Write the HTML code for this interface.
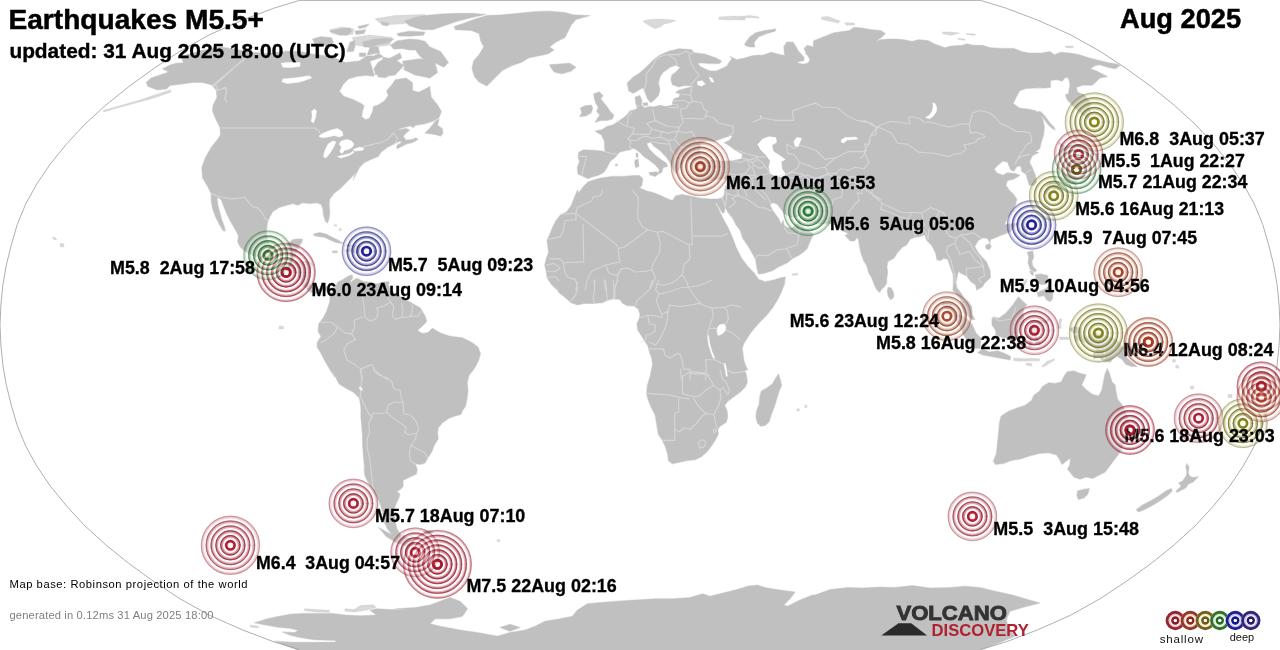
<!DOCTYPE html>
<html lang="en"><head><meta charset="utf-8"><title>Earthquakes M5.5+ Aug 2025</title>
<style>
html,body{margin:0;padding:0;background:#fff;}
body{width:1280px;height:650px;overflow:hidden;font-family:"Liberation Sans","DejaVu Sans",sans-serif;}
svg{display:block}
.lbl{font:bold 17.5px "Liberation Sans","DejaVu Sans",sans-serif;fill:#000;stroke:#000;stroke-width:0.3px;white-space:pre}
</style></head><body>
<svg width="1280" height="650" viewBox="0 0 1280 650">
<defs>
<radialGradient id="g_red"><stop offset="0" stop-color="#ffdde2" stop-opacity="0.45"/><stop offset="0.4" stop-color="#ffdde2" stop-opacity="0.35"/><stop offset="0.75" stop-color="#ffdde2" stop-opacity="0.22"/><stop offset="1" stop-color="#ffdde2" stop-opacity="0.06"/></radialGradient><radialGradient id="g_orange"><stop offset="0" stop-color="#ffd8c0" stop-opacity="0.45"/><stop offset="0.4" stop-color="#ffd8c0" stop-opacity="0.35"/><stop offset="0.75" stop-color="#ffd8c0" stop-opacity="0.22"/><stop offset="1" stop-color="#ffd8c0" stop-opacity="0.06"/></radialGradient><radialGradient id="g_brown"><stop offset="0" stop-color="#ffdcc8" stop-opacity="0.45"/><stop offset="0.4" stop-color="#ffdcc8" stop-opacity="0.35"/><stop offset="0.75" stop-color="#ffdcc8" stop-opacity="0.22"/><stop offset="1" stop-color="#ffdcc8" stop-opacity="0.06"/></radialGradient><radialGradient id="g_olive"><stop offset="0" stop-color="#fbfbc8" stop-opacity="0.45"/><stop offset="0.4" stop-color="#fbfbc8" stop-opacity="0.35"/><stop offset="0.75" stop-color="#fbfbc8" stop-opacity="0.22"/><stop offset="1" stop-color="#fbfbc8" stop-opacity="0.06"/></radialGradient><radialGradient id="g_golive"><stop offset="0" stop-color="#f4f8dc" stop-opacity="0.45"/><stop offset="0.4" stop-color="#f4f8dc" stop-opacity="0.35"/><stop offset="0.75" stop-color="#f4f8dc" stop-opacity="0.22"/><stop offset="1" stop-color="#f4f8dc" stop-opacity="0.06"/></radialGradient><radialGradient id="g_green"><stop offset="0" stop-color="#d8f2d8" stop-opacity="0.45"/><stop offset="0.4" stop-color="#d8f2d8" stop-opacity="0.35"/><stop offset="0.75" stop-color="#d8f2d8" stop-opacity="0.22"/><stop offset="1" stop-color="#d8f2d8" stop-opacity="0.06"/></radialGradient><radialGradient id="g_blue"><stop offset="0" stop-color="#dcdcff" stop-opacity="0.45"/><stop offset="0.4" stop-color="#dcdcff" stop-opacity="0.35"/><stop offset="0.75" stop-color="#dcdcff" stop-opacity="0.22"/><stop offset="1" stop-color="#dcdcff" stop-opacity="0.06"/></radialGradient><radialGradient id="g_indigo"><stop offset="0" stop-color="#ece8ff" stop-opacity="0.45"/><stop offset="0.4" stop-color="#ece8ff" stop-opacity="0.35"/><stop offset="0.75" stop-color="#ece8ff" stop-opacity="0.22"/><stop offset="1" stop-color="#ece8ff" stop-opacity="0.06"/></radialGradient>
</defs>
<rect width="1280" height="650" fill="#fff"/>
<g>
<path d="M404.7,21.1 415.6,17.2 425.0,15.6 440.6,14.1 456.2,13.3 471.9,13.3 485.9,14.4 471.9,17.5 456.2,21.6 450.0,23.8 440.6,26.9 432.8,29.7 421.9,29.7 409.4,25.8Z M396.9,33.6 409.4,31.2 425.0,32.0 423.4,35.2 409.4,36.2 398.4,35.9Z M329.7,31.2 340.6,28.9 350.0,28.1 351.6,31.2 346.9,35.2 339.1,34.4Z M357.8,26.6 368.8,24.2 365.6,27.3 359.4,28.4Z M354.7,31.2 365.6,29.7 364.1,33.6 356.2,34.4Z M381.2,21.9 389.1,23.4 387.5,25.8 382.8,25.0Z M312.5,39.1 320.3,36.7 331.2,37.5 333.6,42.2 328.1,45.3 315.6,45.3Z M350.0,42.2 354.7,40.6 355.0,46.9 353.1,51.6 346.9,51.6Z M362.5,42.2 375.0,39.1 384.4,38.3 393.8,39.1 387.5,43.0 378.1,44.5 370.3,46.9 364.1,46.9Z M370.3,46.9 378.1,46.9 379.7,53.1 373.4,56.2 367.2,54.7Z M359.4,53.1 365.6,53.1 365.6,56.6 359.4,56.6Z M390.6,45.3 396.9,40.9 409.4,39.1 418.8,39.8 425.0,41.4 429.7,46.9 440.6,51.6 448.4,62.5 443.8,67.2 434.4,62.5 428.1,64.1 423.4,59.4 418.8,54.7 415.6,50.0 409.4,50.0 401.6,48.4 393.8,49.2Z M414.1,65.6 423.4,62.5 432.8,65.6 434.7,71.9 429.7,78.1 423.4,76.6 417.2,71.9Z M387.5,59.4 400.0,53.1 401.6,57.8 393.8,62.5 387.5,62.5Z M376.6,70.3 384.4,66.4 390.6,69.5 390.3,75.0 385.2,77.7 378.1,76.9Z M403.1,68.8 412.5,66.4 414.1,69.5 406.2,71.1Z M454.1,26.6 463.4,23.4 475.9,18.8 486.9,15.6 502.5,14.8 518.1,13.3 533.8,11.7 549.4,11.2 565.0,12.5 572.8,14.8 590.0,15.6 575.9,19.5 571.2,25.0 568.1,31.2 565.0,37.5 555.6,42.2 549.4,46.9 554.1,50.0 547.8,53.9 536.9,56.2 529.1,57.8 521.2,62.5 511.9,65.6 502.5,70.3 496.2,76.6 490.0,82.8 486.9,85.9 479.1,82.0 474.4,76.6 472.0,68.8 473.6,60.9 479.1,54.7 483.8,46.9 480.6,40.6 479.1,33.6 471.2,30.5 455.6,29.7Z M549.4,64.8 558.8,64.1 569.7,63.3 575.9,67.2 571.2,71.1 561.9,73.8 554.1,71.9 551.7,68.8Z M588.1,178.8 583.4,176.4 578.0,174.1 577.2,167.8 579.5,161.6 578.0,156.9 578.8,152.2 583.4,149.8 594.4,150.3 605.3,151.4 604.5,147.5 604.5,141.2 601.4,135.0 595.2,131.1 602.2,129.5 606.9,126.4 613.1,124.8 617.8,121.7 622.5,118.6 627.2,114.7 630.3,110.8 628.8,111.2 635.0,109.7 637.3,108.1 635.8,103.4 635.0,97.2 639.7,95.6 642.0,100.3 641.2,105.0 644.4,108.1 649.1,106.6 653.8,106.9 660.0,105.3 666.2,106.6 672.5,105.0 672.5,101.9 674.1,98.8 678.8,97.2 680.3,94.1 675.6,92.5 678.8,90.2 685.0,88.6 694.4,86.2 695.9,83.1 700.6,76.9 716.2,73.8 760.0,73.8 760.0,210.0 730.3,210.0 728.8,197.5 728.0,188.1 728.4,178.8 722.5,178.8 710.0,180.3 697.5,178.8 694.4,172.5 697.5,161.6 692.8,160.0 685.0,160.0 681.9,164.7 678.8,169.4 675.6,174.1 672.5,167.8 669.4,161.6 666.2,156.9 660.0,150.6 653.8,145.9 650.6,142.0 646.7,143.6 649.1,149.1 655.3,155.3 661.6,160.0 666.2,163.1 667.8,166.2 663.1,167.8 661.6,172.5 658.4,174.1 659.2,169.4 655.3,164.7 649.1,160.0 644.4,156.9 639.7,152.2 635.0,149.1 633.4,148.3 630.3,149.8 625.6,150.6 619.4,152.2 615.5,156.9 610.0,161.6 606.9,167.8 603.8,172.5 597.5,175.6 591.2,177.2Z M628.8,90.9 627.2,83.1 633.4,76.9 639.7,73.0 647.5,65.9 653.8,59.7 660.0,55.0 669.4,51.1 678.8,48.8 691.2,49.5 694.4,52.7 705.3,54.2 716.2,58.1 721.7,61.2 719.4,63.6 710.0,63.6 700.6,62.8 697.5,63.6 700.6,66.7 705.3,69.1 710.0,70.9 716.2,70.9 722.5,68.3 727.2,65.9 728.8,62.8 731.9,58.9 730.3,56.6 736.6,59.7 744.4,58.1 752.2,55.8 760.0,55.0 760.0,92.5 700.6,92.5 695.9,83.1 694.4,86.2 685.0,85.5 678.8,87.0 672.5,84.7 670.9,80.0 671.7,75.3 675.6,72.2 680.3,67.5 675.6,65.2 669.4,67.5 667.8,69.1 663.1,72.2 660.0,76.9 658.4,83.1 660.0,89.4 658.4,95.6 653.8,100.3 650.6,102.7 647.5,98.8 645.2,92.5 642.8,87.8 639.7,89.4 633.4,93.3Z M642.8,103.1 647.5,102.7 647.8,105.3 643.6,105.8Z M593.6,94.1 599.1,91.7 603.0,95.6 600.6,98.8 603.8,102.7 606.9,106.6 610.0,111.2 613.9,115.2 612.3,119.1 606.9,120.6 600.6,120.6 595.2,122.2 597.5,118.3 599.8,115.2 596.7,111.2 598.3,107.3 595.9,103.4 594.4,98.8Z M580.3,108.1 585.0,105.8 591.2,105.0 592.8,108.1 591.2,112.8 585.8,115.9 579.5,116.7 581.9,112.8Z M744.4,44.8 746.7,40.9 749.8,37.0 755.3,33.1 760.0,31.6 760.0,34.7 756.1,37.0 753.0,40.9 750.6,44.8 747.5,46.4Z M649.1,172.5 656.9,171.7 658.4,174.1 655.3,176.4 649.8,174.8Z M635.0,160.0 638.1,159.2 638.9,166.2 635.8,167.8 634.7,163.9Z M636.2,153.0 638.1,153.8 637.8,157.7 636.2,156.9Z M615.5,164.4 617.5,164.1 617.5,165.6 615.5,165.8Z M170.0,65.0 162.5,68.8 168.8,72.0 160.0,75.0 151.2,78.0 146.2,82.5 148.0,86.5 157.5,90.0 166.2,89.0 170.0,85.5 182.5,84.0 192.5,82.5 202.5,82.5 212.0,85.0 216.2,90.0 217.0,97.5 213.0,105.5 212.5,111.2 216.2,120.0 220.0,127.5 220.5,135.0 217.0,140.0 211.2,147.5 205.5,157.5 201.8,167.5 202.5,177.8 207.2,185.6 211.1,193.4 211.2,201.2 212.7,209.1 215.6,216.9 219.5,224.7 223.1,230.6 225.3,231.2 224.2,226.2 221.9,220.0 219.7,212.2 218.1,205.9 217.2,199.7 217.8,196.9 221.2,199.7 223.6,205.9 226.7,213.8 230.6,221.6 235.3,229.4 238.4,235.6 237.7,241.9 240.0,246.6 244.7,251.2 252.5,255.2 260.3,258.3 268.1,260.6 277.5,262.2 283.8,265.3 280.0,266.6 287.4,270.3 294.2,272.3 295.9,273.5 299.0,277.5 301.2,281.5 301.3,285.2 305.4,287.2 308.7,290.8 311.1,292.4 314.6,292.8 318.0,295.6 320.2,294.4 321.1,291.6 323.0,289.2 326.4,290.8 328.0,293.6 330.1,295.6 332.4,291.6 330.7,289.6 326.7,286.8 323.1,286.4 318.4,288.8 314.1,288.8 311.5,286.4 308.9,282.3 308.8,278.7 310.0,273.5 311.3,267.4 311.9,264.6 309.5,261.4 304.3,261.0 298.9,261.4 294.7,261.8 292.7,260.6 295.0,256.6 296.4,251.3 298.9,246.5 301.9,242.1 302.4,238.9 302.5,239.5 299.4,238.8 293.1,239.5 290.0,241.9 283.8,246.6 277.5,248.1 271.2,246.6 268.1,241.9 266.6,235.6 266.6,229.4 267.3,223.1 269.7,216.9 272.8,211.4 279.1,207.5 286.9,205.2 293.1,203.6 297.8,205.2 302.5,202.8 310.3,203.6 316.6,202.8 321.2,204.4 322.8,209.1 323.6,215.3 325.2,220.8 327.5,223.1 329.1,218.4 329.8,212.2 329.1,204.4 329.8,198.9 333.8,193.4 340.0,188.8 346.2,182.5 352.5,176.2 355.6,172.3 353.1,180.0 356.2,173.8 359.4,167.5 364.1,162.8 370.3,159.7 378.1,156.6 381.2,151.9 387.5,147.2 393.8,144.1 400.0,140.9 401.6,142.5 396.9,145.6 396.9,148.8 400.0,147.2 406.2,144.1 412.5,142.5 418.0,139.4 415.6,137.8 412.5,139.4 406.2,140.2 403.1,136.2 406.2,133.1 409.4,130.0 406.2,128.4 396.9,130.0 387.5,134.7 385.2,137.0 390.6,133.1 400.0,128.4 409.4,126.1 415.6,125.3 425.0,123.8 434.4,120.6 439.1,117.5 441.4,111.2 437.5,105.0 431.2,97.2 429.7,86.2 428.1,87.5 418.8,92.2 412.5,90.6 412.5,82.8 406.2,78.1 395.3,79.7 389.1,89.1 387.5,100.0 390.6,86.2 386.7,90.9 388.3,95.6 384.4,101.1 378.1,105.0 373.4,106.6 372.7,111.2 369.5,118.3 365.6,119.8 361.7,116.7 362.5,111.2 364.1,105.8 360.9,103.4 353.1,99.5 343.8,96.4 339.1,90.9 339.8,90.6 343.0,84.4 348.4,78.9 356.2,76.6 365.6,75.3 373.4,76.2 375.3,73.1 373.8,68.8 378.1,62.5 382.8,59.4 382.8,56.2 378.1,53.1 368.8,54.7 359.4,60.9 345.3,62.5 331.2,56.2 315.6,54.7 300.0,51.6 287.4,51.2 266.5,53.6 252.8,52.2 238.2,49.9 221.2,46.9 201.6,50.5 180.6,56.6 182.5,59.7 183.3,62.8 176.1,63.2Z M425.0,133.1 429.7,128.4 435.9,120.6 439.1,119.1 437.5,125.3 442.2,128.4 443.0,133.1 440.6,136.2 435.9,134.7 431.2,133.9Z M411.2,125.3 414.8,125.6 414.1,127.2 411.2,126.9Z M313.4,234.1 319.7,232.5 325.9,234.1 332.2,237.2 338.4,240.3 343.1,243.4 336.9,242.7 330.6,240.3 324.4,237.2 318.1,236.4 314.2,235.6Z M332.2,251.2 336.9,250.9 337.7,252.5 333.0,252.8Z M345.2,245.3 350.8,244.9 355.3,244.9 360.8,246.1 365.6,250.1 361.6,251.3 355.4,253.4 351.0,251.7 344.8,250.9 349.6,248.9 350.8,247.3Z M369.7,250.5 374.9,250.9 374.4,252.5 369.5,252.5Z M330.1,295.6 330.7,290.0 335.5,287.2 337.6,282.3 342.3,279.9 348.6,275.9 352.2,275.1 352.7,278.3 350.4,280.7 351.3,282.7 352.5,281.1 356.6,278.3 358.0,278.7 363.1,281.5 371.2,282.3 376.4,283.9 383.6,281.9 387.1,282.3 388.7,285.6 390.2,290.8 420.3,308.1 425.0,315.9 426.6,320.6 425.0,325.3 432.8,328.4 440.6,333.1 450.0,336.2 462.5,337.8 471.9,342.5 478.1,347.2 480.5,353.4 478.9,359.7 475.0,367.5 470.3,373.8 471.9,370.0 468.8,376.2 467.2,382.5 468.0,390.3 467.2,398.1 465.6,405.9 462.5,410.6 460.9,414.5 454.7,416.1 448.4,418.4 442.2,423.1 438.3,427.8 437.5,432.5 438.3,438.8 434.4,445.0 432.0,451.2 428.1,457.5 425.0,463.0 420.3,464.5 415.6,463.8 412.5,461.4 415.6,464.7 417.2,469.4 416.4,474.1 409.4,477.2 403.1,480.3 403.1,486.6 400.0,489.7 396.9,491.2 400.0,494.4 398.4,499.1 396.1,503.8 393.8,510.0 394.5,516.2 395.3,522.5 396.9,528.8 400.0,533.4 401.6,538.1 402.6,534.8 416.2,543.6 412.2,546.2 404.4,545.5 395.1,542.1 386.1,536.3 378.6,527.4 392.2,535.0 387.5,528.8 384.4,522.5 382.8,513.1 381.2,506.9 378.1,499.1 373.4,491.2 368.8,483.4 364.8,475.6 364.1,467.8 364.8,470.0 364.1,463.8 363.3,454.4 362.5,445.0 362.5,435.6 361.7,426.2 360.9,416.9 360.9,407.5 359.4,398.1 353.1,391.9 346.9,388.8 339.1,384.1 335.9,377.8 331.2,370.0 334.4,376.9 329.7,369.1 325.0,361.2 320.3,351.9 317.2,347.2 317.2,342.5 321.1,336.2 318.0,331.6 318.8,323.8 323.4,317.5 326.6,311.2 329.7,301.9Z M423.1,530.9 429.1,530.5 433.2,531.7 430.7,534.4 424.7,533.2Z M385.7,281.9 389.2,281.5 388.7,284.3 385.6,284.3Z M578.8,192.8 583.4,186.6 588.1,181.9 592.8,180.3 600.6,178.0 611.6,176.4 622.5,176.4 633.4,175.6 639.7,175.6 642.8,178.8 642.0,185.0 639.7,188.1 647.5,191.2 653.8,192.8 660.0,195.2 667.8,199.1 672.5,200.6 675.6,195.9 681.9,194.4 689.7,195.9 700.6,198.3 710.0,199.1 717.8,199.1 722.5,197.5 725.6,194.4 715.6,203.4 717.0,205.8 722.5,217.5 728.0,227.5 732.5,237.5 736.2,247.5 741.2,257.5 747.5,266.2 755.0,273.8 754.1,273.1 758.8,279.4 765.0,281.7 772.8,280.2 780.6,277.8 785.3,277.0 784.5,284.1 781.4,291.9 777.5,299.7 772.8,307.5 766.6,315.3 760.3,321.6 754.8,327.8 750.9,332.5 747.8,337.2 743.9,343.4 742.3,348.1 743.1,354.4 743.9,360.6 745.5,365.3 747.8,370.0 745.0,370.0 746.6,376.2 747.3,382.5 745.0,387.2 740.3,391.9 734.1,396.6 727.8,401.2 724.7,405.2 727.0,410.6 727.8,416.9 726.2,422.3 720.0,426.2 717.7,429.4 718.4,434.1 716.1,438.8 712.2,445.0 707.5,451.2 701.2,456.7 695.0,459.8 687.2,460.6 679.4,462.2 672.3,463.8 668.4,460.6 667.7,454.4 665.3,446.6 662.2,440.3 658.3,434.1 656.7,424.7 655.2,415.3 651.2,407.5 648.1,399.7 646.6,393.4 647.3,385.6 649.7,377.8 652.8,370.0 649.4,380.0 650.9,372.2 652.5,364.4 651.7,358.1 649.4,351.9 647.8,345.6 644.7,340.9 640.8,334.7 637.7,330.0 636.9,323.8 639.2,319.1 640.0,314.4 638.4,308.9 633.8,305.8 627.5,305.8 622.8,303.4 619.7,299.5 613.4,298.8 607.2,300.3 602.5,302.7 593.1,303.4 583.8,303.4 577.5,305.0 571.2,302.7 565.0,297.2 558.8,292.5 555.6,286.2 552.5,280.0 557.2,290.0 550.9,283.8 547.0,277.5 546.2,271.2 544.7,265.0 546.2,258.8 548.6,252.5 547.8,246.2 547.0,240.0 549.4,235.3 552.5,227.5 555.6,221.2 560.3,215.0 566.6,211.9 571.2,205.6 573.6,199.4 577.5,190.0Z M778.6,373.9 780.2,379.4 781.7,385.6 779.4,390.3 777.0,398.1 774.7,405.9 771.6,413.8 769.2,421.6 765.3,425.5 760.6,426.2 757.5,423.1 755.9,416.9 756.7,410.6 759.1,404.4 759.8,396.6 761.4,391.1 766.9,388.0 772.3,384.1 775.5,378.6Z M731.9,76.9 760.0,73.8 740.0,59.4 747.8,57.0 755.6,55.9 763.4,55.0 771.2,52.3 777.5,53.9 784.5,55.5 783.8,46.9 786.9,41.9 793.1,42.2 796.2,46.9 800.2,52.3 806.4,53.9 804.1,48.4 807.2,45.3 813.4,46.9 813.4,40.9 825.9,35.9 833.8,32.8 849.4,30.5 854.1,27.3 861.9,28.1 869.7,29.4 880.6,30.5 885.3,33.6 881.4,37.5 875.9,40.9 880.6,39.8 888.4,39.1 896.2,39.1 904.1,39.8 911.9,41.4 918.1,39.8 920.0,39.8 927.8,40.6 934.1,43.8 945.0,47.7 951.2,46.1 962.2,45.3 966.9,43.8 973.1,45.3 982.5,45.3 990.3,47.7 1001.2,48.4 1013.8,48.4 1021.6,51.6 1029.4,53.1 1041.9,53.1 1049.7,51.6 1054.4,54.7 1060.6,52.3 1070.0,53.1 1079.4,54.7 1088.8,57.8 1098.1,60.2 1107.5,62.5 1116.9,64.1 1120.0,65.6 1115.3,68.8 1107.5,67.2 1099.7,64.8 1095.0,65.6 1090.3,68.8 1096.6,71.1 1104.4,75.0 1107.5,76.6 1099.7,78.1 1095.0,82.8 1091.9,85.2 1082.5,85.2 1076.2,87.5 1077.8,92.2 1084.2,94.7 1088.4,100.3 1091.3,105.3 1087.8,107.2 1091.3,112.1 1088.8,113.7 1089.5,120.6 1082.3,114.8 1074.1,107.2 1067.1,99.6 1065.4,94.7 1068.4,93.8 1070.0,84.4 1068.4,78.1 1065.3,77.3 1062.2,81.2 1057.5,79.7 1050.5,80.5 1050.5,87.5 1044.4,88.1 1038.1,87.8 1025.6,88.6 1019.4,90.9 1016.2,97.2 1013.1,103.4 1019.4,108.1 1027.2,108.9 1035.0,110.5 1039.7,113.6 1042.8,119.1 1044.4,126.9 1043.6,134.7 1041.2,142.5 1039.7,148.8 1035.0,151.9 1030.3,150.3 1038.8,152.5 1032.5,155.6 1029.4,161.9 1032.5,168.1 1035.6,175.9 1036.4,182.2 1034.1,185.3 1029.4,185.3 1027.8,180.6 1026.2,174.4 1021.6,171.2 1020.8,165.8 1016.9,166.6 1013.8,171.2 1010.6,169.7 1007.5,161.9 1002.8,161.1 998.1,165.0 994.2,168.9 996.6,172.8 1002.8,175.2 1007.5,172.8 1015.3,173.6 1020.0,175.2 1013.8,179.1 1007.5,180.6 1005.9,185.3 1009.1,190.0 1013.8,194.7 1016.9,199.4 1015.3,205.6 1012.2,211.9 1007.5,218.1 1004.4,224.4 1018.6,223.2 1014.1,226.8 1010.5,231.6 1003.3,234.4 1000.1,235.6 995.2,237.7 990.2,239.7 990.1,243.3 987.6,238.5 983.0,237.7 978.2,240.5 974.8,246.5 978.1,252.5 982.3,257.4 986.3,261.4 990.2,270.7 990.5,277.5 984.9,282.7 982.4,286.8 976.6,290.0 975.5,284.7 970.7,281.5 966.7,275.9 961.2,273.5 958.5,271.1 957.2,276.7 955.9,282.7 957.0,288.0 960.8,292.8 963.9,297.6 968.3,301.7 971.7,306.9 972.3,314.9 974.9,319.4 972.0,319.4 966.9,314.9 964.1,312.9 961.3,304.9 960.4,298.8 955.5,292.8 952.9,290.8 953.4,282.7 953.2,274.7 950.9,268.6 947.8,259.4 943.8,258.2 940.5,260.6 936.9,259.8 935.4,252.5 931.7,245.3 926.9,240.5 924.5,234.8 920.2,236.4 915.0,237.3 910.0,239.3 908.6,241.7 906.5,244.9 902.2,247.3 897.5,252.5 893.9,258.2 887.9,261.4 886.9,266.6 887.7,272.7 886.7,278.7 886.6,283.5 884.3,286.8 881.9,288.8 879.6,292.4 876.6,289.6 874.3,284.7 871.8,277.9 868.7,272.7 866.7,265.4 863.6,260.6 860.8,252.5 859.5,246.5 858.6,240.5 857.6,237.3 854.4,240.9 850.3,240.9 845.3,235.6 848.5,233.2 843.1,231.2 839.4,228.8 836.2,224.4 828.5,223.6 819.9,224.0 812.9,223.2 805.8,222.0 801.9,217.1 799.4,215.9 795.1,217.5 789.8,217.1 784.3,213.5 780.4,208.3 777.2,204.2 772.9,202.6 769.8,205.1 772.7,210.3 775.9,215.1 778.6,218.3 781.1,224.4 783.2,220.3 784.0,225.2 787.3,227.6 792.5,228.0 797.3,223.6 799.7,219.5 800.9,225.2 804.7,229.2 809.0,230.8 813.2,234.4 809.6,242.5 807.2,248.5 802.9,252.5 798.6,255.4 792.8,258.2 787.7,262.6 779.1,266.6 772.3,270.7 763.5,273.5 758.3,273.9 756.6,266.6 755.6,259.4 751.8,252.5 747.6,245.3 742.8,238.5 740.3,230.4 735.8,224.4 732.7,218.3 727.9,212.3 725.2,206.7 724.5,212.3 722.5,213.1 717.2,204.6 716.2,199.4 722.2,199.0 724.3,194.2 724.6,190.2 726.8,184.1 726.7,178.9 724.9,177.7 720.0,179.3 715.1,179.7 708.5,176.9 703.3,178.9 698.2,176.9 696.2,172.1 693.6,166.9 694.0,162.9 698.8,162.1 701.9,159.7 708.4,159.7 714.6,156.1 721.1,156.1 726.2,158.9 733.0,160.5 737.8,160.1 742.4,158.1 741.8,154.1 736.4,150.1 731.2,146.9 726.0,144.2 726.8,138.2 731.2,135.5 740.1,132.3 761.6,116.8Z M744.7,44.5 749.4,37.5 755.6,32.8 765.0,30.5 775.9,28.9 775.2,31.2 766.6,33.6 758.8,36.7 754.1,42.2 754.8,46.9 749.4,46.9Z M1038.1,111.2 1041.2,112.0 1045.9,117.5 1050.6,123.8 1053.8,126.9 1055.3,130.0 1052.2,128.4 1047.5,123.8 1042.8,117.5 1038.9,113.6Z M1062.6,158.1 1059.7,154.1 1059.4,150.9 1062.7,150.5 1058.7,142.6 1065.1,146.1 1073.7,148.1 1076.1,150.9 1072.3,152.5 1072.2,156.1 1065.2,154.1 1062.6,155.3Z M1065.6,158.1 1069.8,162.1 1073.6,166.1 1073.4,172.1 1075.3,176.5 1077.2,181.3 1075.1,184.1 1071.9,185.3 1066.4,185.7 1064.2,190.2 1059.7,185.7 1053.4,186.9 1047.2,188.1 1046.5,186.5 1050.3,182.5 1058.9,181.7 1061.6,176.5 1062.2,174.1 1066.7,174.5 1067.5,170.1 1066.0,164.1 1063.8,160.1Z M1053.8,192.2 1060.0,188.9 1057.5,186.9 1053.2,188.1Z M1044.6,190.2 1047.3,188.5 1051.4,192.2 1052.1,198.6 1048.7,199.4 1046.8,194.2 1044.4,192.2Z M1025.6,223.6 1027.5,226.4 1025.9,236.4 1022.9,233.2 1022.6,229.2 1024.0,224.4Z M985.8,245.2 989.7,243.6 991.2,246.7 988.9,249.8 985.8,248.3Z M888.1,287.3 891.2,288.1 893.6,292.8 893.6,297.5 890.5,299.8 888.1,295.9 887.3,291.2Z M1027.2,252.2 1032.7,250.9 1033.8,256.9 1031.9,261.6 1032.7,266.2 1036.6,270.2 1035.0,271.7 1030.3,269.4 1028.0,263.1 1028.8,256.9Z M1048.8,285.6 1052.8,290.8 1052.6,298.8 1049.9,301.7 1046.3,299.6 1044.3,295.6 1038.3,296.8 1037.0,292.8 1042.1,290.4 1045.6,288.8Z M1035.4,274.7 1040.7,273.9 1047.9,275.5 1047.7,280.7 1046.2,283.9 1041.7,284.7 1038.0,282.7 1035.8,278.7Z M1029.7,270.7 1033.3,271.5 1033.1,275.5 1031.2,274.3Z M942.8,302.5 950.6,304.1 955.1,309.7 961.6,316.1 966.3,318.2 972.4,325.0 975.9,333.1 981.1,338.3 980.0,348.3 975.4,348.3 967.9,341.1 963.4,335.1 961.0,328.2 956.4,321.0 952.7,314.9 947.3,310.1 942.9,304.9Z M977.7,352.4 982.5,349.2 989.4,352.0 997.6,350.8 1004.3,353.2 1010.5,356.4 1010.2,360.0 1001.5,358.4 991.0,356.4 982.2,354.8Z M991.9,319.0 993.6,316.9 999.0,318.2 1006.0,312.9 1012.8,304.9 1018.4,296.8 1022.2,300.8 1027.0,304.9 1023.6,308.1 1023.0,312.9 1023.9,321.0 1022.2,325.0 1018.6,331.0 1016.6,339.1 1011.5,341.1 1006.0,337.9 1001.4,337.1 996.1,335.1 995.5,330.2 992.0,325.0Z M1028.7,347.1 1029.0,339.1 1026.6,335.9 1030.4,325.0 1031.8,321.0 1038.2,321.0 1047.0,319.8 1049.5,319.0 1047.1,323.0 1034.6,323.0 1032.1,328.2 1036.4,329.0 1042.8,328.2 1038.1,332.2 1036.2,336.3 1039.6,341.1 1040.2,345.1 1035.9,343.9 1034.4,337.1 1031.9,337.1 1031.9,347.1Z M1070.2,328.2 1075.5,326.6 1080.8,328.2 1081.7,335.1 1085.9,338.3 1093.2,331.8 1098.5,333.1 1105.5,335.5 1114.3,338.7 1119.5,342.3 1122.1,346.7 1128.0,349.2 1128.8,353.2 1125.7,356.4 1130.6,361.2 1137.1,366.5 1131.8,366.5 1126.0,364.4 1121.9,359.2 1116.8,356.0 1113.1,358.8 1110.3,362.0 1104.0,361.6 1099.0,357.2 1093.6,358.8 1093.3,353.2 1097.0,351.2 1092.7,345.9 1085.7,342.7 1078.7,340.3 1076.2,341.1 1074.6,336.3 1080.0,333.9 1073.6,333.1 1070.1,330.2Z M998.8,430.0 999.5,422.5 1001.1,416.2 1008.1,411.6 1015.9,408.4 1025.3,405.3 1031.6,400.6 1033.9,395.2 1039.4,391.2 1042.5,386.6 1048.8,382.7 1055.0,383.4 1061.2,381.9 1064.4,375.6 1067.5,371.7 1073.8,370.9 1080.0,373.3 1086.2,374.8 1083.9,380.3 1081.6,385.0 1086.2,389.7 1092.5,394.4 1098.8,395.9 1101.9,389.7 1103.4,381.9 1105.0,374.1 1107.3,368.6 1109.7,374.1 1112.0,381.9 1115.2,385.0 1115.9,391.2 1117.5,399.1 1122.2,405.3 1125.3,411.6 1128.4,419.4 1130.0,427.2 1126.9,430.0 1126.9,434.7 1125.3,440.9 1122.2,447.2 1119.1,453.4 1114.4,459.7 1109.7,465.9 1105.0,472.2 1098.8,475.3 1092.5,478.4 1086.2,476.9 1080.0,479.2 1073.8,476.9 1071.4,473.8 1067.5,469.1 1069.8,464.4 1070.6,458.1 1065.9,461.2 1062.0,464.4 1059.7,459.7 1056.6,455.0 1048.8,452.7 1039.4,453.4 1030.0,455.8 1020.6,458.9 1011.2,460.5 1003.4,463.6 995.6,464.4 993.3,461.2 996.4,453.4 997.2,445.6 998.0,437.8 998.8,430.0Z M1077.7,490.9 1083.1,489.4 1089.4,488.6 1087.8,494.1 1083.9,498.0 1078.4,499.5 1076.9,495.6Z M1136.2,509.7 1142.5,505.0 1150.3,501.1 1158.1,496.4 1165.9,490.9 1171.4,488.6 1172.2,490.9 1167.5,495.6 1159.7,501.1 1151.9,505.8 1144.1,509.7 1138.6,512.0Z M1186.7,463.5 1189.0,467.1 1188.2,473.1 1189.9,476.3 1192.8,477.5 1198.3,476.7 1193.2,481.9 1188.6,483.9 1185.5,487.9 1177.1,492.3 1176.0,491.1 1180.8,486.7 1180.6,485.1 1178.6,483.1 1182.6,481.1 1186.2,475.9 1186.9,471.9 1185.9,466.7Z M254.4,622.8 266.9,618.9 277.8,616.6 290.3,614.2 304.4,613.4 320.0,613.4 332.5,613.4 345.0,615.0 360.6,615.8 376.2,615.0 370.0,610.3 376.2,608.8 391.9,609.5 407.5,609.5 395.0,608.8 415.0,607.5 430.0,605.0 440.0,601.2 450.0,597.5 460.0,601.2 467.5,608.8 462.5,616.2 450.0,618.8 435.0,618.8 430.0,623.8 440.0,626.2 460.0,630.0 477.5,632.5 497.5,636.2 510.0,632.5 525.0,630.0 535.0,626.2 545.0,621.2 560.0,618.8 560.0,618.8 572.5,616.2 577.5,610.0 587.5,603.8 600.0,602.5 617.5,601.2 635.0,600.0 655.0,598.8 672.5,598.8 690.0,597.5 702.5,593.8 710.0,596.2 720.0,593.8 735.0,590.0 747.5,586.2 757.5,585.0 765.0,587.5 780.0,590.0 795.0,592.0 790.0,598.8 783.8,605.0 787.5,606.2 800.0,600.0 812.5,595.0 815.0,595.0 830.0,589.5 847.5,587.5 862.5,588.0 880.0,587.0 895.0,587.5 912.5,585.5 930.0,588.0 950.0,587.5 965.0,586.2 980.0,587.5 995.0,591.2 1012.5,595.0 1025.0,598.8 1040.0,603.0 1022.5,607.5 1010.0,611.2 1006.2,620.0 1008.8,628.8 1015.0,636.2 1000.0,642.5 980.0,650.0 980.0,655.0 298.1,652.5 298.1,650.0 285.6,645.5 274.7,641.2 290.3,642.2 313.8,642.3 335.6,642.0 335.6,640.5 313.8,639.7 301.2,637.7 290.3,635.3 282.5,631.9 295.0,632.5 298.1,630.3 290.3,628.3 279.4,627.5 266.9,625.2Z M500.0,627.5 510.0,624.2 520.0,627.5 510.0,631.2Z M370.0,61.2 382.5,57.0 395.0,59.5 403.8,65.5 395.0,75.0 383.8,76.5 373.8,74.0Z M402.5,61.2 420.0,58.8 435.0,62.5 437.5,72.5 430.0,78.0 415.0,75.0 405.0,70.0Z" fill="#c0c0c0" fill-rule="nonzero" stroke="#c0c0c0" stroke-opacity="0.45" stroke-width="1.2" stroke-linejoin="round"/>
<path d="M334.5,224.7 336.6,224.7 336.6,226.2 334.5,226.2Z M339.2,228.6 341.2,228.6 341.2,230.6 339.2,230.6Z M170.6,89.7 158.1,93.9 148.8,97.0 139.4,100.2 126.9,103.8 119.1,105.9 103.4,110.6 103.4,111.9 119.1,107.5 126.9,105.3 139.4,102.0 148.8,99.4 158.1,96.6 170.6,92.3Z M497.2,539.4 500.0,540.0 499.7,542.0 497.2,541.2Z M279.1,326.2 283.4,326.2 283.4,329.0 279.2,329.0Z M797.0,408.8 799.2,408.8 799.2,410.9 797.0,410.9Z M804.8,405.2 807.0,405.2 807.0,407.5 804.8,407.5Z M792.2,273.8 797.7,273.4 797.7,275.0 792.2,275.3Z M821.2,17.2 827.5,16.4 840.0,21.1 838.4,23.1 829.1,21.1 822.0,19.5Z M844.7,22.7 854.1,23.1 854.8,25.0 846.2,25.3Z M740.0,16.4 749.4,15.6 758.8,16.9 758.8,18.1 749.4,17.5 740.0,18.4Z M941.9,32.0 951.2,32.0 959.8,33.1 951.2,35.2 943.4,34.1Z M966.1,33.6 975.5,34.1 974.7,35.2 966.9,34.7Z M957.5,38.3 965.3,39.1 964.5,40.3 958.3,39.4Z M1065.3,46.1 1073.1,46.1 1073.1,47.7 1066.1,47.7Z M1019.8,290.8 1024.2,286.8 1027.1,279.9 1026.0,279.1 1022.2,284.7 1019.1,289.6Z M1013.9,358.0 1019.2,358.4 1026.3,358.8 1031.6,358.4 1039.7,358.8 1039.6,360.8 1029.7,360.8 1019.0,361.2 1013.7,360.4Z M1041.6,366.5 1047.3,361.2 1054.6,358.8 1054.5,360.0 1048.9,363.6 1043.3,366.9Z M1025.9,363.2 1031.2,363.2 1032.1,366.1 1026.8,365.3Z M1057.7,328.2 1059.5,319.0 1061.9,319.0 1060.6,325.0 1061.3,328.2Z M1059.3,337.1 1068.2,337.1 1069.2,339.5 1059.9,339.5Z M1131.6,347.5 1138.7,347.1 1144.4,341.9 1145.6,344.7 1142.2,349.2 1135.0,350.4 1131.5,349.2Z M304.4,608.8 316.9,609.5 329.4,610.3 329.4,612.2 316.9,611.9 304.4,610.6Z M345.0,608.8 354.4,609.5 360.6,605.6 373.1,604.8 376.2,607.2 366.9,610.0 354.4,611.9 345.0,611.1Z M249.7,625.2 257.5,625.9 259.1,627.8 251.2,627.2Z M643.0,21.0 650.0,19.5 659.0,19.0 668.0,19.5 676.0,20.5 671.0,22.5 664.0,24.0 660.0,27.0 655.0,28.5 650.0,26.0 646.0,23.5Z M719.0,17.0 735.0,16.0 745.0,17.0 745.0,20.0 730.0,20.0 719.0,19.5Z M330.0,29.5 342.5,27.0 353.8,28.8 352.5,34.5 340.0,35.5 331.2,33.0Z M375.0,18.8 395.0,15.5 425.0,14.5 425.0,20.0 402.5,23.8 382.5,25.0Z M352.5,37.5 370.0,35.0 392.5,37.5 390.0,45.0 370.0,47.5 355.0,45.0Z M60.0,243.5 63.5,243.5 64.0,246.8 60.5,247.0Z M52.0,237.0 55.0,237.5 57.0,240.0 54.0,239.5Z M423.8,327.0 428.8,325.5 430.0,329.0 425.5,330.5Z M1172.5,359.5 1175.5,359.5 1175.5,362.0 1172.5,362.0Z M1176.0,365.0 1179.0,366.0 1178.5,368.5 1175.5,367.5Z M1228.0,394.5 1232.0,394.5 1232.0,397.5 1228.0,397.5Z M1190.5,386.0 1193.5,386.0 1193.5,389.0 1190.5,389.0Z" fill="#c0c0c0" fill-opacity="0.6" stroke="#c0c0c0" stroke-opacity="0.25" stroke-width="1.2" stroke-linejoin="round"/>
<path d="M697.5,81.6 702.2,80.8 705.3,83.9 701.4,86.2 697.5,84.7Z M709.2,76.9 712.3,78.4 713.9,82.3 710.8,81.6Z M701.4,143.6 706.9,141.2 713.9,142.0 717.8,140.5 725.6,137.8 731.9,135.8 729.5,139.7 723.3,142.8 728.8,145.9 735.0,150.6 742.0,154.5 741.2,158.4 731.9,160.3 722.5,160.8 713.1,159.2 705.3,160.8 701.4,156.9 699.8,150.6Z M318.8,136.2 323.4,133.1 331.2,130.0 337.5,128.4 342.2,131.6 343.0,135.5 339.1,137.0 334.4,135.5 328.1,137.0 321.9,137.8Z M332.8,140.9 335.9,141.7 333.6,147.2 329.7,153.4 325.8,158.1 323.4,156.6 325.0,150.3 328.1,144.1Z M341.4,140.9 346.9,139.4 351.6,140.9 353.9,144.1 352.3,147.2 348.4,149.5 344.5,150.3 342.2,153.4 339.8,151.9 341.4,147.2 339.1,144.1Z M337.5,156.6 343.8,155.0 350.0,153.4 353.1,151.1 353.9,152.7 348.4,155.8 340.6,158.1Z M353.1,149.5 359.4,147.2 364.1,148.0 362.5,150.3 354.7,151.1Z M311.7,111.2 314.8,108.9 316.4,111.2 315.6,117.5 313.3,123.0 311.2,121.4 312.2,115.9Z M281.2,63.3 287.5,62.5 300.0,62.5 300.0,66.4 290.6,67.5 282.8,67.2Z M282.8,78.9 293.8,78.1 309.4,75.8 311.7,78.1 300.0,82.0 287.5,83.6 282.0,82.0Z M359.1,387.2 361.2,386.9 362.5,390.0 360.6,390.6Z M717.3,327.8 719.7,324.7 724.4,323.9 725.9,327.0 725.2,330.9 722.0,334.1 718.1,335.6 716.9,331.7Z M707.5,335.6 708.8,335.6 709.7,343.4 711.9,351.2 714.7,357.8 713.4,358.4 710.6,351.6 708.4,343.8Z M723.8,363.4 725.3,363.4 726.6,370.0 727.5,376.2 726.2,376.2 725.2,370.0Z M757.8,144.5 762.5,139.1 768.8,136.7 775.8,137.5 776.6,142.2 771.9,145.3 773.4,151.6 779.7,155.5 785.2,159.4 781.2,161.7 782.0,168.8 785.2,173.4 784.4,176.6 776.6,176.6 770.3,173.4 768.8,167.2 770.3,160.9 765.6,154.7 760.9,150.0Z M793.8,141.4 796.9,137.5 801.6,138.3 800.0,142.2 797.7,146.9 795.0,146.1Z M841.4,139.8 845.3,137.5 856.2,137.2 857.8,139.1 846.9,140.0 843.8,143.0 841.4,142.2Z M925.6,117.5 929.5,115.2 932.2,111.2 933.1,106.6 932.7,102.7 935.0,103.4 936.9,108.1 936.2,112.0 933.4,115.9 929.5,118.8Z M797.0,46.9 800.2,46.1 802.5,51.6 807.2,55.5 809.5,59.4 808.0,62.5 803.3,63.8 797.8,62.5 804.1,60.9 804.8,57.8 801.7,53.9 798.6,50.8Z M418.0,330.5 425.5,323.5 433.0,327.0 428.0,332.0 422.5,333.0Z" fill="#fff" stroke="#fff" stroke-opacity="0.45" stroke-width="1" stroke-linejoin="round"/>
<path d="M242.5,60.0 213.8,86.2 M221.2,128.0 315.0,128.0 315.6,128.8 318.8,130.8 321.1,135.0 M211.1,193.4 216.6,195.8 222.8,197.3 230.6,198.9 240.0,198.1 244.7,197.3 247.8,201.2 252.5,206.7 257.2,207.5 261.9,212.2 265.0,218.4 268.1,220.0 M364.1,146.4 373.4,144.1 381.2,142.5 387.5,139.4 393.8,133.1 397.7,138.6 394.5,143.8 M360.2,370.0 361.7,377.8 360.9,387.2 360.2,396.6 364.1,404.4 368.8,413.8 371.9,416.9 368.8,423.1 369.5,432.5 367.2,438.8 367.2,448.1 369.5,457.5 371.1,470.0 371.9,478.8 373.4,491.2 376.6,500.6 379.7,510.0 M373.4,370.0 378.1,374.7 387.5,377.8 392.2,382.5 393.8,388.8 400.0,390.3 401.6,398.1 403.1,402.8 393.8,402.0 388.3,405.2 386.7,412.2 381.2,413.8 373.4,413.0 371.9,416.9 M386.7,412.2 393.8,418.4 401.6,423.9 406.2,427.8 404.7,432.5 409.4,434.8 416.4,433.3 M403.1,402.8 403.9,413.8 410.9,415.3 416.4,421.6 418.8,429.4 416.4,433.3 415.6,438.8 410.9,445.0 418.8,449.7 425.0,452.8 427.3,457.5 M410.9,445.0 409.4,452.8 410.2,460.6 414.1,463.8 M602.5,190.0 600.9,195.5 593.1,197.0 591.6,200.9 577.5,207.2 575.9,213.4 M560.3,214.2 575.9,213.4 575.9,219.7 565.0,220.5 563.4,230.6 560.3,236.9 547.8,239.2 M575.9,213.4 616.6,244.7 618.1,248.6 624.4,247.0 647.8,229.8 M632.2,190.0 638.4,197.8 637.7,218.1 641.6,225.9 647.8,229.8 657.2,232.2 663.4,231.4 688.4,244.7 692.3,244.7 M690.8,198.6 692.3,244.7 M693.1,236.1 721.2,236.1 727.5,233.8 M657.2,232.2 660.3,243.1 659.5,252.5 652.5,265.0 651.7,269.7 M689.2,244.7 690.0,258.8 683.8,265.0 682.2,274.4 686.9,282.2 688.4,286.9 M583.0,224.4 583.8,261.9 563.4,262.7 560.3,258.8 549.4,258.8 M618.1,248.6 619.7,261.9 605.6,265.0 591.6,271.2 586.9,280.6 585.3,290.0 M618.1,274.4 621.2,268.9 627.5,268.1 635.3,272.0 646.2,271.2 651.7,269.7 655.6,277.5 652.5,283.8 649.4,290.0 M605.6,265.0 608.8,272.8 615.0,275.2 618.1,274.4 616.6,283.8 613.4,290.0 M563.4,262.7 565.0,272.8 568.1,277.5 574.4,279.1 577.5,283.8 575.9,290.0 M594.7,279.8 594.7,290.0 M604.1,279.8 605.6,290.0 M546.2,265.0 554.1,263.4 560.3,268.1 555.6,271.2 547.0,271.2 M547.0,277.5 555.6,276.7 558.8,280.6 M682.2,274.4 675.9,280.6 669.7,283.8 663.4,285.3 655.6,283.8 M575.9,280.0 577.5,289.4 575.2,295.6 571.2,300.3 M593.9,280.0 594.7,289.4 593.1,298.8 594.7,303.4 M605.6,280.0 606.4,289.4 607.2,299.5 M613.4,280.0 614.2,290.9 613.4,298.8 M618.1,280.0 615.0,286.2 614.7,298.0 M652.5,280.0 649.4,289.4 643.1,295.6 636.9,300.3 635.3,305.8 M658.8,280.0 655.6,289.4 658.8,294.1 669.7,291.7 680.6,287.8 688.4,287.0 M688.4,287.0 696.2,286.2 705.6,283.1 711.9,280.0 M688.4,287.0 696.2,298.8 702.5,305.0 711.9,308.1 724.4,307.3 732.2,305.0 740.0,306.6 M658.8,294.1 656.4,300.3 658.8,308.1 661.9,314.4 668.1,311.2 669.7,305.0 680.6,306.6 690.0,305.0 699.4,303.4 702.5,305.0 M640.0,317.5 647.8,315.2 655.6,315.9 661.9,317.5 661.9,314.4 M647.8,315.9 649.4,323.8 655.6,325.3 654.8,331.6 649.4,334.7 646.2,334.7 645.5,340.2 640.0,342.5 M668.1,311.2 667.3,320.6 665.0,328.4 661.9,334.7 658.8,340.9 655.6,344.8 649.4,342.5 M649.4,348.8 663.4,348.8 665.0,355.0 669.7,358.1 677.5,353.4 680.6,355.0 682.2,361.2 683.8,369.1 690.0,369.1 690.8,373.8 702.5,373.8 708.8,375.3 M711.9,308.1 713.4,315.9 710.3,323.8 708.0,331.6 708.0,339.4 M724.4,307.3 727.5,311.2 728.3,319.1 725.9,323.8 M725.9,330.0 732.2,333.1 740.0,339.4 M708.8,328.4 716.6,328.4 M705.6,359.7 715.0,359.7 724.4,364.4 M705.6,359.7 706.4,367.5 705.6,380.0 M680.6,369.1 681.4,380.0 M690.0,369.1 690.0,380.0 M647.3,393.4 670.0,395.0 682.5,398.1 688.8,398.9 M678.6,398.9 678.6,412.2 674.7,413.0 674.7,440.3 662.2,440.3 M674.7,429.4 679.4,431.7 684.1,427.8 690.3,429.4 696.6,423.1 702.8,415.3 707.5,413.8 M693.4,398.1 698.1,405.9 704.4,412.2 707.5,413.8 713.8,414.5 M698.1,396.6 707.5,388.8 713.8,385.6 720.0,390.3 720.8,398.1 718.4,405.9 713.8,414.5 715.3,421.6 716.9,427.8 M682.5,376.2 682.5,393.4 688.8,395.8 698.1,396.6 M682.5,376.2 690.3,371.6 705.9,373.1 709.1,377.8 713.8,385.6 M698.1,442.7 702.0,439.5 705.9,441.9 704.4,446.6 699.7,448.1 698.1,442.7 M713.1,429.7 715.6,429.1 716.2,431.9 713.8,432.5 713.1,429.7 M721.6,377.8 726.2,382.5 729.4,390.3 727.8,395.0 723.1,387.2 720.0,390.3 M720.0,370.0 722.3,377.8 M727.8,370.0 732.5,373.1 745.0,371.6 M362.5,297.2 364.1,306.6 364.8,316.7 370.3,321.4 376.6,318.3 378.1,311.2 376.6,308.1 384.4,305.8 390.6,301.9 387.5,297.2 M390.6,301.9 393.8,306.6 392.2,315.9 395.3,319.1 401.6,317.5 403.1,311.2 401.6,303.4 M401.6,317.5 409.4,316.7 411.7,314.4 412.5,305.0 M409.4,316.7 418.8,315.9 420.3,311.2 M320.3,322.2 331.2,322.2 337.5,326.9 345.3,333.1 351.6,333.9 354.7,326.9 353.9,320.6 362.5,316.7 M321.1,342.5 326.6,339.4 334.4,333.1 337.5,326.9 M351.6,333.9 355.5,339.4 346.9,344.1 343.8,350.3 346.9,359.7 354.7,364.4 360.9,369.1 362.5,380.0 M360.9,369.1 371.9,364.4 375.0,370.6 381.2,375.3 387.5,380.0 M877.2,126.9 883.4,123.8 891.2,121.4 900.6,122.2 910.0,123.8 908.4,117.5 911.6,116.7 919.4,118.3 924.1,122.2 931.9,122.2 941.2,125.3 949.1,126.9 956.9,125.3 961.6,123.8 969.4,124.5 970.2,133.1 975.6,132.3 983.4,134.7 985.0,137.0 977.2,139.4 975.6,142.5 967.8,144.1 963.9,144.8 966.2,148.8 961.6,153.4 953.8,154.2 949.1,156.6 944.4,155.8 935.0,153.4 925.6,152.7 917.8,151.9 913.1,148.0 906.9,144.1 897.5,143.3 894.4,137.8 891.2,133.1 883.4,129.2 877.2,126.9 M969.4,124.5 972.5,112.8 980.3,110.5 989.7,112.8 995.9,117.5 1000.6,123.8 1008.4,126.9 1016.2,131.6 1024.1,131.6 1030.3,133.1 1031.9,142.5 1027.2,144.1 1024.1,148.8 1017.8,158.1 M860.0,121.4 864.7,120.6 872.5,125.3 877.2,126.9 875.6,134.7 870.2,136.2 869.4,144.1 864.7,144.1 866.2,150.3 863.1,156.6 860.0,158.1 M753.1,121.9 762.5,118.0 775.0,120.3 793.8,120.3 792.2,110.9 803.1,107.0 815.6,103.1 821.9,107.0 837.5,107.8 846.9,115.6 856.2,120.3 871.9,123.4 876.6,128.1 870.3,135.9 868.8,143.8 864.1,151.6 848.4,151.6 835.9,157.8 825.0,159.4 815.6,150.0 800.0,145.3 M786.7,143.8 793.8,148.4 800.0,145.3 M786.7,143.8 787.5,153.1 793.8,154.7 800.0,162.5 809.4,165.6 815.6,168.8 825.0,167.2 829.7,162.5 835.9,157.8 M776.6,176.6 787.5,173.4 796.9,168.8 800.0,162.5 M825.0,167.2 828.1,173.4 835.9,173.4 840.6,168.8 848.4,170.3 854.7,167.2 864.1,168.8 868.8,162.5 864.1,151.6 M784.4,176.6 793.8,178.1 806.2,175.0 815.6,178.1 825.0,175.0 828.1,173.4 M815.6,178.1 817.2,187.5 812.5,193.8 818.8,200.0 M835.9,173.4 837.5,181.2 845.3,184.4 853.1,181.2 862.5,187.5 871.9,193.8 881.2,200.0 M731.2,160.2 740.6,162.5 746.9,159.4 753.1,162.5 757.8,159.4 762.5,162.5 770.3,173.4 M746.9,159.4 750.0,167.2 745.3,173.4 751.6,178.1 762.5,175.0 770.3,173.4 M751.6,178.1 753.1,187.5 759.4,193.8 765.6,200.0 M745.3,173.4 735.9,175.0 728.1,173.4 721.9,178.1 M735.9,175.0 737.5,184.4 743.8,187.5 746.9,196.9 M579.0,156.5 586.5,156.5 584.6,164.1 582.9,170.1 582.2,175.3 M602.0,150.5 610.0,153.3 618.0,154.5 M617.0,120.2 622.1,124.1 627.0,126.5 634.4,128.4 632.5,133.9 627.7,139.0 630.5,140.6 629.8,147.3 632.0,148.9 M631.6,112.1 628.1,117.5 627.7,121.8 627.0,126.5 M636.1,105.7 639.7,106.0 M652.6,109.5 653.9,114.8 655.3,120.6 646.8,123.4 651.8,129.2 649.4,134.3 640.0,134.3 632.5,133.9 M630.5,140.6 636.8,140.2 641.6,137.1 646.9,136.3 651.7,138.2 659.9,137.1 661.9,131.6 667.6,133.1 677.5,131.2 M680.4,109.1 681.2,114.8 683.0,121.8 679.4,127.3 667.9,126.5 661.6,123.4 655.3,120.6 M651.8,129.2 661.9,131.6 M677.5,131.2 674.8,139.4 672.6,139.8 668.5,140.6 659.9,137.1 M668.5,140.6 670.0,144.6 670.9,150.1 673.9,152.9 674.4,156.5 675.9,160.5 673.5,165.3 M651.7,141.8 656.8,142.2 659.1,143.4 662.3,143.4 668.7,144.2 M677.5,131.2 685.4,132.7 691.9,131.6 697.8,142.2 702.4,143.4 M674.8,139.4 679.9,146.1 685.0,149.3 694.5,147.7 699.7,149.3 M679.9,146.1 680.1,154.9 682.3,158.9 692.1,158.9 693.3,157.3 698.4,156.1 M674.4,156.5 680.1,154.9 M675.9,160.5 682.3,158.9 M692.1,158.9 693.2,160.9 M681.5,118.7 691.9,118.3 702.6,119.1 706.8,116.0 713.1,117.5 718.5,123.0 726.5,124.9 732.8,126.1 733.3,133.1 728.7,135.9 M679.4,127.3 678.1,130.8 M680.4,109.1 686.3,108.3 689.0,103.0 693.5,101.1 701.7,103.0 703.8,109.1 707.7,111.8 705.0,116.0 M672.4,101.1 684.0,100.3 689.0,103.0 M668.9,107.6 678.2,107.6 678.0,105.3 673.2,104.1 M681.4,94.3 686.4,94.7 690.6,95.8 692.3,100.3 M691.4,88.4 690.6,95.8 M690.9,84.7 695.7,79.2 699.3,75.6 694.0,68.5 690.2,61.4 689.1,54.6 693.3,51.9 M644.3,90.2 646.2,82.9 646.3,73.8 652.1,66.7 655.8,59.7 660.8,56.3 667.1,54.6 M677.5,65.6 675.5,59.7 668.4,54.6 678.8,54.6 686.0,51.2 688.8,52.9 M726.7,178.9 733.1,176.9 743.0,175.7 747.9,175.3 755.6,175.3 751.7,166.5 754.2,165.3 749.1,159.7 742.4,158.1 M755.6,175.3 760.4,182.1 759.5,188.1 767.1,196.2 771.4,204.2 M738.3,195.4 748.9,200.2 758.7,207.5 764.9,207.9 769.3,210.3 M726.9,193.4 730.8,195.0 738.3,195.4 737.1,190.6 744.2,186.5 747.6,175.7 M725.1,206.3 726.6,198.2 726.4,191.4 M722.6,199.0 725.1,206.3 M729.0,207.5 733.9,204.2 735.4,202.2 731.7,198.2 738.3,195.4 M754.2,165.3 760.3,168.5 764.8,166.1 768.5,170.5 M742.4,158.1 749.1,159.7 753.9,158.9 758.5,156.9 765.0,156.9 M736.4,150.1 746.6,153.7 758.5,156.9 M769.3,210.3 771.7,210.3 M784.2,227.6 788.0,232.8 797.1,233.6 798.7,236.4 797.2,244.5 786.9,248.5 776.5,250.1 767.4,255.8 757.5,255.0 755.2,259.0 M786.9,248.5 791.3,257.8 M798.7,236.4 800.5,227.6 799.2,224.8 M797.1,233.6 798.7,236.4 M816.4,223.6 817.4,208.3 813.8,205.1 813.2,198.2 810.6,190.2 811.2,181.7 802.5,174.1 792.2,172.1 785.7,174.9 M813.8,205.1 831.3,205.1 833.7,199.0 841.9,197.0 842.3,190.2 844.9,186.1 844.8,178.1 854.4,176.1 857.0,180.1 M811.2,181.7 819.9,178.1 827.4,174.5 832.8,176.1 844.8,178.1 M833.6,222.8 841.1,228.4 851.3,226.8 847.9,213.1 855.0,204.2 859.4,200.2 857.2,192.2 861.7,194.2 864.1,182.1 867.5,182.1 872.2,188.1 871.8,194.2 882.2,203.4 880.5,209.1 890.7,212.7 900.1,217.1 908.9,218.3 910.9,214.3 911.3,212.3 M882.2,203.4 893.4,208.7 901.0,212.3 907.9,212.7 911.3,212.3 921.7,213.1 930.9,207.5 939.5,211.1 M908.9,218.3 911.9,226.4 914.9,236.4 M921.7,213.1 923.4,222.4 924.8,224.8 921.5,228.4 925.9,232.4 928.2,239.3 M939.5,211.1 945.0,214.3 946.2,224.4 943.7,228.4 949.7,236.4 956.9,238.1 954.8,243.3 959.8,254.2 964.2,253.0 969.2,251.3 975.7,260.6 983.4,266.6 M928.2,239.3 928.7,230.4 933.0,224.4 939.5,211.1 M956.9,238.1 960.3,234.8 966.8,234.4 973.5,232.8 980.9,238.1 M960.3,234.8 969.7,242.5 973.2,249.7 980.7,258.6 983.4,266.6 984.4,275.9 978.6,278.7 981.0,282.7 M954.8,243.3 947.6,246.5 946.6,252.5 951.1,260.6 952.4,266.6 955.1,276.7 954.9,282.7 M966.7,275.5 966.4,268.6 976.5,267.4 983.4,266.6 M1025.8,172.9 1030.6,169.7 M1014.9,164.1 1018.8,158.1 1022.6,156.1 1029.6,154.1 M959.7,298.8 965.8,301.3 M994.0,316.9 999.1,321.0 1011.5,319.0 1014.8,310.9 1015.8,307.7 M1105.5,335.5 1104.0,361.6 M252.4,52.5 212.5,85.4 216.9,86.5 216.9,90.6 226.1,87.3 226.4,92.5 224.7,99.2 227.2,102.2 M280.0,266.6 284.3,260.2 287.1,260.2 286.0,255.8 292.3,253.4 295.8,250.9 M292.3,253.4 291.3,261.0 294.3,261.8 M294.3,271.9 290.2,267.0 291.3,261.0 M295.9,273.1 299.1,269.5 305.4,266.2 311.9,264.6 M301.6,280.7 305.1,280.7 308.6,281.1 M310.7,292.4 311.1,286.8 M330.7,290.0 329.4,294.8" fill="none" stroke="#e4e4e4" stroke-opacity="0.6" stroke-width="1.15" stroke-linejoin="round" stroke-linecap="round"/>
</g>
<path d="M299.4,649.6 273.8,641.8 242.4,629.9 209.2,615.1 180.1,598.8 153.8,581.5 128.9,563.5 105.6,544.7 84.5,525.5 66.4,505.8 50.2,485.9 36.7,465.9 25.6,445.8 17.3,425.6 11.4,405.5 6.4,385.4 2.9,365.3 0.9,345.1 0.0,325.0 0.9,304.9 2.9,284.7 6.4,264.6 11.4,244.5 17.3,224.4 25.6,204.2 36.7,184.1 50.2,164.1 66.4,144.2 84.5,124.5 105.6,105.3 128.9,86.5 153.8,68.5 180.1,51.2 209.2,34.9 242.4,20.1 273.8,8.2 299.4,0.4 980.6,0.4 1006.2,8.2 1037.6,20.1 1070.8,34.9 1099.9,51.2 1126.2,68.5 1151.1,86.5 1174.4,105.3 1195.5,124.5 1213.6,144.2 1229.8,164.1 1243.3,184.1 1254.4,204.2 1262.7,224.4 1268.6,244.5 1273.6,264.6 1277.1,284.7 1279.1,304.9 1280.0,325.0 1279.1,345.1 1277.1,365.3 1273.6,385.4 1268.6,405.5 1262.7,425.6 1254.4,445.8 1243.3,465.9 1229.8,485.9 1213.6,505.8 1195.5,525.5 1174.4,544.7 1151.1,563.5 1126.2,581.5 1099.9,598.8 1070.8,615.1 1037.6,629.9 1006.2,641.8 980.6,649.6" fill="none" stroke="#9a9a9a" stroke-width="0.8"/>
<g transform="translate(286.1,272.4)"><circle r="30.1" fill="url(#g_red)"/><circle r="26.1" fill="none" stroke="#fff" stroke-width="1.6" stroke-opacity="0.25"/><circle r="28.2" fill="none" stroke="#a8162c" stroke-width="2.6" stroke-opacity="0.17"/><circle r="28.9" fill="none" stroke="#a8162c" stroke-width="1.2" stroke-opacity="0.28"/><circle r="29.3" fill="none" stroke="#333" stroke-width="0.9" stroke-opacity="0.17"/><circle r="21.2" fill="none" stroke="#fff" stroke-width="1.6" stroke-opacity="0.34"/><circle r="23.4" fill="none" stroke="#a8162c" stroke-width="2.6" stroke-opacity="0.28"/><circle r="24.1" fill="none" stroke="#a8162c" stroke-width="1.2" stroke-opacity="0.47"/><circle r="24.5" fill="none" stroke="#333" stroke-width="0.9" stroke-opacity="0.29"/><circle r="16.4" fill="none" stroke="#fff" stroke-width="1.6" stroke-opacity="0.42"/><circle r="18.6" fill="none" stroke="#a8162c" stroke-width="2.6" stroke-opacity="0.32"/><circle r="19.2" fill="none" stroke="#a8162c" stroke-width="1.2" stroke-opacity="0.54"/><circle r="19.6" fill="none" stroke="#333" stroke-width="0.9" stroke-opacity="0.34"/><circle r="11.5" fill="none" stroke="#fff" stroke-width="1.6" stroke-opacity="0.51"/><circle r="13.7" fill="none" stroke="#a8162c" stroke-width="2.6" stroke-opacity="0.37"/><circle r="14.4" fill="none" stroke="#a8162c" stroke-width="1.2" stroke-opacity="0.61"/><circle r="14.8" fill="none" stroke="#333" stroke-width="0.9" stroke-opacity="0.38"/><circle r="6.7" fill="none" stroke="#fff" stroke-width="1.6" stroke-opacity="0.60"/><circle r="8.9" fill="none" stroke="#a8162c" stroke-width="2.6" stroke-opacity="0.41"/><circle r="9.6" fill="none" stroke="#a8162c" stroke-width="1.2" stroke-opacity="0.68"/><circle r="10.0" fill="none" stroke="#333" stroke-width="0.9" stroke-opacity="0.42"/><circle r="4.2" fill="none" stroke="#a8162c" stroke-width="2.7" stroke-opacity="0.95"/><path d="M7,0H26.1" stroke="#400" stroke-width="0.6" stroke-opacity="0.22" stroke-dasharray="3 2"/><circle r="1.8" fill="#fff" fill-opacity="0.6"/></g>
<g transform="translate(268.1,255.3)"><circle r="25.2" fill="url(#g_green)"/><circle r="21.2" fill="none" stroke="#fff" stroke-width="1.6" stroke-opacity="0.25"/><circle r="23.4" fill="none" stroke="#1e7a28" stroke-width="2.6" stroke-opacity="0.17"/><circle r="24.1" fill="none" stroke="#1e7a28" stroke-width="1.2" stroke-opacity="0.28"/><circle r="24.5" fill="none" stroke="#333" stroke-width="0.9" stroke-opacity="0.17"/><circle r="16.4" fill="none" stroke="#fff" stroke-width="1.6" stroke-opacity="0.37"/><circle r="18.6" fill="none" stroke="#1e7a28" stroke-width="2.6" stroke-opacity="0.30"/><circle r="19.2" fill="none" stroke="#1e7a28" stroke-width="1.2" stroke-opacity="0.49"/><circle r="19.6" fill="none" stroke="#333" stroke-width="0.9" stroke-opacity="0.31"/><circle r="11.5" fill="none" stroke="#fff" stroke-width="1.6" stroke-opacity="0.48"/><circle r="13.7" fill="none" stroke="#1e7a28" stroke-width="2.6" stroke-opacity="0.35"/><circle r="14.4" fill="none" stroke="#1e7a28" stroke-width="1.2" stroke-opacity="0.59"/><circle r="14.8" fill="none" stroke="#333" stroke-width="0.9" stroke-opacity="0.37"/><circle r="6.7" fill="none" stroke="#fff" stroke-width="1.6" stroke-opacity="0.60"/><circle r="8.9" fill="none" stroke="#1e7a28" stroke-width="2.6" stroke-opacity="0.41"/><circle r="9.6" fill="none" stroke="#1e7a28" stroke-width="1.2" stroke-opacity="0.68"/><circle r="10.0" fill="none" stroke="#333" stroke-width="0.9" stroke-opacity="0.42"/><circle r="4.2" fill="none" stroke="#1e7a28" stroke-width="2.7" stroke-opacity="0.95"/><path d="M7,0H21.2" stroke="#400" stroke-width="0.6" stroke-opacity="0.22" stroke-dasharray="3 2"/><circle r="1.8" fill="#fff" fill-opacity="0.6"/></g>
<g transform="translate(286.1,272.4)"><circle r="6.7" fill="none" stroke="#fff" stroke-width="1.3" stroke-opacity="0.35"/><circle r="9.4" fill="none" stroke="#a8162c" stroke-width="1.6" stroke-opacity="0.22"/><circle r="11.5" fill="none" stroke="#fff" stroke-width="1.3" stroke-opacity="0.35"/><circle r="14.2" fill="none" stroke="#a8162c" stroke-width="1.6" stroke-opacity="0.22"/><circle r="16.4" fill="none" stroke="#fff" stroke-width="1.3" stroke-opacity="0.35"/><circle r="19.1" fill="none" stroke="#a8162c" stroke-width="1.6" stroke-opacity="0.22"/><circle r="21.2" fill="none" stroke="#fff" stroke-width="1.3" stroke-opacity="0.35"/><circle r="23.9" fill="none" stroke="#a8162c" stroke-width="1.6" stroke-opacity="0.22"/><circle r="26.1" fill="none" stroke="#fff" stroke-width="1.3" stroke-opacity="0.35"/><circle r="28.8" fill="none" stroke="#a8162c" stroke-width="1.6" stroke-opacity="0.22"/><circle r="4.2" fill="none" stroke="#a8162c" stroke-width="2.7" stroke-opacity="0.85"/><circle r="1.8" fill="#fff" fill-opacity="0.85"/></g>
<text class="lbl" x="110.0" y="274.1" textLength="145.0" lengthAdjust="spacingAndGlyphs" xml:space="preserve">M5.8  2Aug 17:58</text>
<text class="lbl" x="311.6" y="295.8" textLength="150.3" lengthAdjust="spacingAndGlyphs" xml:space="preserve">M6.0 23Aug 09:14</text>
<g transform="translate(366.5,251.2)"><circle r="25.2" fill="url(#g_blue)"/><circle r="21.2" fill="none" stroke="#fff" stroke-width="1.6" stroke-opacity="0.25"/><circle r="23.4" fill="none" stroke="#15158c" stroke-width="2.6" stroke-opacity="0.17"/><circle r="24.1" fill="none" stroke="#15158c" stroke-width="1.2" stroke-opacity="0.28"/><circle r="24.5" fill="none" stroke="#333" stroke-width="0.9" stroke-opacity="0.17"/><circle r="16.4" fill="none" stroke="#fff" stroke-width="1.6" stroke-opacity="0.37"/><circle r="18.6" fill="none" stroke="#15158c" stroke-width="2.6" stroke-opacity="0.30"/><circle r="19.2" fill="none" stroke="#15158c" stroke-width="1.2" stroke-opacity="0.49"/><circle r="19.6" fill="none" stroke="#333" stroke-width="0.9" stroke-opacity="0.31"/><circle r="11.5" fill="none" stroke="#fff" stroke-width="1.6" stroke-opacity="0.48"/><circle r="13.7" fill="none" stroke="#15158c" stroke-width="2.6" stroke-opacity="0.35"/><circle r="14.4" fill="none" stroke="#15158c" stroke-width="1.2" stroke-opacity="0.59"/><circle r="14.8" fill="none" stroke="#333" stroke-width="0.9" stroke-opacity="0.37"/><circle r="6.7" fill="none" stroke="#fff" stroke-width="1.6" stroke-opacity="0.60"/><circle r="8.9" fill="none" stroke="#15158c" stroke-width="2.6" stroke-opacity="0.41"/><circle r="9.6" fill="none" stroke="#15158c" stroke-width="1.2" stroke-opacity="0.68"/><circle r="10.0" fill="none" stroke="#333" stroke-width="0.9" stroke-opacity="0.42"/><circle r="4.2" fill="none" stroke="#15158c" stroke-width="2.7" stroke-opacity="0.95"/><path d="M7,0H21.2" stroke="#400" stroke-width="0.6" stroke-opacity="0.22" stroke-dasharray="3 2"/><circle r="1.8" fill="#fff" fill-opacity="0.6"/></g>
<text class="lbl" x="387.9" y="270.5" textLength="145.2" lengthAdjust="spacingAndGlyphs" xml:space="preserve">M5.7  5Aug 09:23</text>
<g transform="translate(700.3,166.6)"><circle r="30.1" fill="url(#g_orange)"/><circle r="26.1" fill="none" stroke="#fff" stroke-width="1.6" stroke-opacity="0.25"/><circle r="28.2" fill="none" stroke="#a43a22" stroke-width="2.6" stroke-opacity="0.17"/><circle r="28.9" fill="none" stroke="#a43a22" stroke-width="1.2" stroke-opacity="0.28"/><circle r="29.3" fill="none" stroke="#333" stroke-width="0.9" stroke-opacity="0.17"/><circle r="21.2" fill="none" stroke="#fff" stroke-width="1.6" stroke-opacity="0.34"/><circle r="23.4" fill="none" stroke="#a43a22" stroke-width="2.6" stroke-opacity="0.28"/><circle r="24.1" fill="none" stroke="#a43a22" stroke-width="1.2" stroke-opacity="0.47"/><circle r="24.5" fill="none" stroke="#333" stroke-width="0.9" stroke-opacity="0.29"/><circle r="16.4" fill="none" stroke="#fff" stroke-width="1.6" stroke-opacity="0.42"/><circle r="18.6" fill="none" stroke="#a43a22" stroke-width="2.6" stroke-opacity="0.32"/><circle r="19.2" fill="none" stroke="#a43a22" stroke-width="1.2" stroke-opacity="0.54"/><circle r="19.6" fill="none" stroke="#333" stroke-width="0.9" stroke-opacity="0.34"/><circle r="11.5" fill="none" stroke="#fff" stroke-width="1.6" stroke-opacity="0.51"/><circle r="13.7" fill="none" stroke="#a43a22" stroke-width="2.6" stroke-opacity="0.37"/><circle r="14.4" fill="none" stroke="#a43a22" stroke-width="1.2" stroke-opacity="0.61"/><circle r="14.8" fill="none" stroke="#333" stroke-width="0.9" stroke-opacity="0.38"/><circle r="6.7" fill="none" stroke="#fff" stroke-width="1.6" stroke-opacity="0.60"/><circle r="8.9" fill="none" stroke="#a43a22" stroke-width="2.6" stroke-opacity="0.41"/><circle r="9.6" fill="none" stroke="#a43a22" stroke-width="1.2" stroke-opacity="0.68"/><circle r="10.0" fill="none" stroke="#333" stroke-width="0.9" stroke-opacity="0.42"/><circle r="4.2" fill="none" stroke="#a43a22" stroke-width="2.7" stroke-opacity="0.95"/><path d="M7,0H26.1" stroke="#400" stroke-width="0.6" stroke-opacity="0.22" stroke-dasharray="3 2"/><circle r="1.8" fill="#fff" fill-opacity="0.6"/></g>
<text class="lbl" x="726.0" y="189.2" textLength="149.3" lengthAdjust="spacingAndGlyphs" xml:space="preserve">M6.1 10Aug 16:53</text>
<g transform="translate(808.1,211.2)"><circle r="25.2" fill="url(#g_green)"/><circle r="21.2" fill="none" stroke="#fff" stroke-width="1.6" stroke-opacity="0.25"/><circle r="23.4" fill="none" stroke="#1e7a28" stroke-width="2.6" stroke-opacity="0.17"/><circle r="24.1" fill="none" stroke="#1e7a28" stroke-width="1.2" stroke-opacity="0.28"/><circle r="24.5" fill="none" stroke="#333" stroke-width="0.9" stroke-opacity="0.17"/><circle r="16.4" fill="none" stroke="#fff" stroke-width="1.6" stroke-opacity="0.37"/><circle r="18.6" fill="none" stroke="#1e7a28" stroke-width="2.6" stroke-opacity="0.30"/><circle r="19.2" fill="none" stroke="#1e7a28" stroke-width="1.2" stroke-opacity="0.49"/><circle r="19.6" fill="none" stroke="#333" stroke-width="0.9" stroke-opacity="0.31"/><circle r="11.5" fill="none" stroke="#fff" stroke-width="1.6" stroke-opacity="0.48"/><circle r="13.7" fill="none" stroke="#1e7a28" stroke-width="2.6" stroke-opacity="0.35"/><circle r="14.4" fill="none" stroke="#1e7a28" stroke-width="1.2" stroke-opacity="0.59"/><circle r="14.8" fill="none" stroke="#333" stroke-width="0.9" stroke-opacity="0.37"/><circle r="6.7" fill="none" stroke="#fff" stroke-width="1.6" stroke-opacity="0.60"/><circle r="8.9" fill="none" stroke="#1e7a28" stroke-width="2.6" stroke-opacity="0.41"/><circle r="9.6" fill="none" stroke="#1e7a28" stroke-width="1.2" stroke-opacity="0.68"/><circle r="10.0" fill="none" stroke="#333" stroke-width="0.9" stroke-opacity="0.42"/><circle r="4.2" fill="none" stroke="#1e7a28" stroke-width="2.7" stroke-opacity="0.95"/><path d="M7,0H21.2" stroke="#400" stroke-width="0.6" stroke-opacity="0.22" stroke-dasharray="3 2"/><circle r="1.8" fill="#fff" fill-opacity="0.6"/></g>
<text class="lbl" x="829.9" y="229.9" textLength="144.9" lengthAdjust="spacingAndGlyphs" xml:space="preserve">M5.6  5Aug 05:06</text>
<g transform="translate(1031.6,224.9)"><circle r="25.2" fill="url(#g_blue)"/><circle r="21.2" fill="none" stroke="#fff" stroke-width="1.6" stroke-opacity="0.25"/><circle r="23.4" fill="none" stroke="#15158c" stroke-width="2.6" stroke-opacity="0.17"/><circle r="24.1" fill="none" stroke="#15158c" stroke-width="1.2" stroke-opacity="0.28"/><circle r="24.5" fill="none" stroke="#333" stroke-width="0.9" stroke-opacity="0.17"/><circle r="16.4" fill="none" stroke="#fff" stroke-width="1.6" stroke-opacity="0.37"/><circle r="18.6" fill="none" stroke="#15158c" stroke-width="2.6" stroke-opacity="0.30"/><circle r="19.2" fill="none" stroke="#15158c" stroke-width="1.2" stroke-opacity="0.49"/><circle r="19.6" fill="none" stroke="#333" stroke-width="0.9" stroke-opacity="0.31"/><circle r="11.5" fill="none" stroke="#fff" stroke-width="1.6" stroke-opacity="0.48"/><circle r="13.7" fill="none" stroke="#15158c" stroke-width="2.6" stroke-opacity="0.35"/><circle r="14.4" fill="none" stroke="#15158c" stroke-width="1.2" stroke-opacity="0.59"/><circle r="14.8" fill="none" stroke="#333" stroke-width="0.9" stroke-opacity="0.37"/><circle r="6.7" fill="none" stroke="#fff" stroke-width="1.6" stroke-opacity="0.60"/><circle r="8.9" fill="none" stroke="#15158c" stroke-width="2.6" stroke-opacity="0.41"/><circle r="9.6" fill="none" stroke="#15158c" stroke-width="1.2" stroke-opacity="0.68"/><circle r="10.0" fill="none" stroke="#333" stroke-width="0.9" stroke-opacity="0.42"/><circle r="4.2" fill="none" stroke="#15158c" stroke-width="2.7" stroke-opacity="0.95"/><path d="M7,0H21.2" stroke="#400" stroke-width="0.6" stroke-opacity="0.22" stroke-dasharray="3 2"/><circle r="1.8" fill="#fff" fill-opacity="0.6"/></g>
<text class="lbl" x="1053.1" y="243.6" textLength="143.9" lengthAdjust="spacingAndGlyphs" xml:space="preserve">M5.9  7Aug 07:45</text>
<g transform="translate(1053.7,195.8)"><circle r="25.2" fill="url(#g_olive)"/><circle r="21.2" fill="none" stroke="#fff" stroke-width="1.6" stroke-opacity="0.25"/><circle r="23.4" fill="none" stroke="#7d7d18" stroke-width="2.6" stroke-opacity="0.17"/><circle r="24.1" fill="none" stroke="#7d7d18" stroke-width="1.2" stroke-opacity="0.28"/><circle r="24.5" fill="none" stroke="#333" stroke-width="0.9" stroke-opacity="0.17"/><circle r="16.4" fill="none" stroke="#fff" stroke-width="1.6" stroke-opacity="0.37"/><circle r="18.6" fill="none" stroke="#7d7d18" stroke-width="2.6" stroke-opacity="0.30"/><circle r="19.2" fill="none" stroke="#7d7d18" stroke-width="1.2" stroke-opacity="0.49"/><circle r="19.6" fill="none" stroke="#333" stroke-width="0.9" stroke-opacity="0.31"/><circle r="11.5" fill="none" stroke="#fff" stroke-width="1.6" stroke-opacity="0.48"/><circle r="13.7" fill="none" stroke="#7d7d18" stroke-width="2.6" stroke-opacity="0.35"/><circle r="14.4" fill="none" stroke="#7d7d18" stroke-width="1.2" stroke-opacity="0.59"/><circle r="14.8" fill="none" stroke="#333" stroke-width="0.9" stroke-opacity="0.37"/><circle r="6.7" fill="none" stroke="#fff" stroke-width="1.6" stroke-opacity="0.60"/><circle r="8.9" fill="none" stroke="#7d7d18" stroke-width="2.6" stroke-opacity="0.41"/><circle r="9.6" fill="none" stroke="#7d7d18" stroke-width="1.2" stroke-opacity="0.68"/><circle r="10.0" fill="none" stroke="#333" stroke-width="0.9" stroke-opacity="0.42"/><circle r="4.2" fill="none" stroke="#7d7d18" stroke-width="2.7" stroke-opacity="0.95"/><path d="M7,0H21.2" stroke="#400" stroke-width="0.6" stroke-opacity="0.22" stroke-dasharray="3 2"/><circle r="1.8" fill="#fff" fill-opacity="0.6"/></g>
<text class="lbl" x="1075.2" y="214.8" textLength="148.9" lengthAdjust="spacingAndGlyphs" xml:space="preserve">M5.6 16Aug 21:13</text>
<g transform="translate(1094.3,122.0)"><circle r="30.1" fill="url(#g_olive)"/><circle r="26.1" fill="none" stroke="#fff" stroke-width="1.6" stroke-opacity="0.25"/><circle r="28.2" fill="none" stroke="#7d7d18" stroke-width="2.6" stroke-opacity="0.17"/><circle r="28.9" fill="none" stroke="#7d7d18" stroke-width="1.2" stroke-opacity="0.28"/><circle r="29.3" fill="none" stroke="#333" stroke-width="0.9" stroke-opacity="0.17"/><circle r="21.2" fill="none" stroke="#fff" stroke-width="1.6" stroke-opacity="0.34"/><circle r="23.4" fill="none" stroke="#7d7d18" stroke-width="2.6" stroke-opacity="0.28"/><circle r="24.1" fill="none" stroke="#7d7d18" stroke-width="1.2" stroke-opacity="0.47"/><circle r="24.5" fill="none" stroke="#333" stroke-width="0.9" stroke-opacity="0.29"/><circle r="16.4" fill="none" stroke="#fff" stroke-width="1.6" stroke-opacity="0.42"/><circle r="18.6" fill="none" stroke="#7d7d18" stroke-width="2.6" stroke-opacity="0.32"/><circle r="19.2" fill="none" stroke="#7d7d18" stroke-width="1.2" stroke-opacity="0.54"/><circle r="19.6" fill="none" stroke="#333" stroke-width="0.9" stroke-opacity="0.34"/><circle r="11.5" fill="none" stroke="#fff" stroke-width="1.6" stroke-opacity="0.51"/><circle r="13.7" fill="none" stroke="#7d7d18" stroke-width="2.6" stroke-opacity="0.37"/><circle r="14.4" fill="none" stroke="#7d7d18" stroke-width="1.2" stroke-opacity="0.61"/><circle r="14.8" fill="none" stroke="#333" stroke-width="0.9" stroke-opacity="0.38"/><circle r="6.7" fill="none" stroke="#fff" stroke-width="1.6" stroke-opacity="0.60"/><circle r="8.9" fill="none" stroke="#7d7d18" stroke-width="2.6" stroke-opacity="0.41"/><circle r="9.6" fill="none" stroke="#7d7d18" stroke-width="1.2" stroke-opacity="0.68"/><circle r="10.0" fill="none" stroke="#333" stroke-width="0.9" stroke-opacity="0.42"/><circle r="4.2" fill="none" stroke="#7d7d18" stroke-width="2.7" stroke-opacity="0.95"/><path d="M7,0H26.1" stroke="#400" stroke-width="0.6" stroke-opacity="0.22" stroke-dasharray="3 2"/><circle r="1.8" fill="#fff" fill-opacity="0.6"/></g>
<text class="lbl" x="1119.4" y="145.1" textLength="145.4" lengthAdjust="spacingAndGlyphs" xml:space="preserve">M6.8  3Aug 05:37</text>
<g transform="translate(1076.6,169.3)"><circle r="25.2" fill="url(#g_golive)"/><circle r="21.2" fill="none" stroke="#fff" stroke-width="1.6" stroke-opacity="0.25"/><circle r="23.4" fill="none" stroke="#3c8a50" stroke-width="2.6" stroke-opacity="0.17"/><circle r="24.1" fill="none" stroke="#3c8a50" stroke-width="1.2" stroke-opacity="0.28"/><circle r="24.5" fill="none" stroke="#333" stroke-width="0.9" stroke-opacity="0.17"/><circle r="16.4" fill="none" stroke="#fff" stroke-width="1.6" stroke-opacity="0.37"/><circle r="18.6" fill="none" stroke="#3c8a50" stroke-width="2.6" stroke-opacity="0.30"/><circle r="19.2" fill="none" stroke="#3c8a50" stroke-width="1.2" stroke-opacity="0.49"/><circle r="19.6" fill="none" stroke="#333" stroke-width="0.9" stroke-opacity="0.31"/><circle r="11.5" fill="none" stroke="#fff" stroke-width="1.6" stroke-opacity="0.48"/><circle r="13.7" fill="none" stroke="#3c8a50" stroke-width="2.6" stroke-opacity="0.35"/><circle r="14.4" fill="none" stroke="#3c8a50" stroke-width="1.2" stroke-opacity="0.59"/><circle r="14.8" fill="none" stroke="#333" stroke-width="0.9" stroke-opacity="0.37"/><circle r="6.7" fill="none" stroke="#fff" stroke-width="1.6" stroke-opacity="0.60"/><circle r="8.9" fill="none" stroke="#3c8a50" stroke-width="2.6" stroke-opacity="0.41"/><circle r="9.6" fill="none" stroke="#3c8a50" stroke-width="1.2" stroke-opacity="0.68"/><circle r="10.0" fill="none" stroke="#333" stroke-width="0.9" stroke-opacity="0.42"/><circle r="4.2" fill="none" stroke="#5a5410" stroke-width="2.7" stroke-opacity="0.95"/><path d="M7,0H21.2" stroke="#400" stroke-width="0.6" stroke-opacity="0.22" stroke-dasharray="3 2"/><circle r="1.8" fill="#fff" fill-opacity="0.6"/></g>
<text class="lbl" x="1097.9" y="187.7" textLength="149.4" lengthAdjust="spacingAndGlyphs" xml:space="preserve">M5.7 21Aug 22:34</text>
<g transform="translate(1078.6,154.5)"><circle r="25.2" fill="url(#g_red)"/><circle r="21.2" fill="none" stroke="#fff" stroke-width="1.6" stroke-opacity="0.25"/><circle r="23.4" fill="none" stroke="#a8162c" stroke-width="2.6" stroke-opacity="0.17"/><circle r="24.1" fill="none" stroke="#a8162c" stroke-width="1.2" stroke-opacity="0.28"/><circle r="24.5" fill="none" stroke="#333" stroke-width="0.9" stroke-opacity="0.17"/><circle r="16.4" fill="none" stroke="#fff" stroke-width="1.6" stroke-opacity="0.37"/><circle r="18.6" fill="none" stroke="#a8162c" stroke-width="2.6" stroke-opacity="0.30"/><circle r="19.2" fill="none" stroke="#a8162c" stroke-width="1.2" stroke-opacity="0.49"/><circle r="19.6" fill="none" stroke="#333" stroke-width="0.9" stroke-opacity="0.31"/><circle r="11.5" fill="none" stroke="#fff" stroke-width="1.6" stroke-opacity="0.48"/><circle r="13.7" fill="none" stroke="#a8162c" stroke-width="2.6" stroke-opacity="0.35"/><circle r="14.4" fill="none" stroke="#a8162c" stroke-width="1.2" stroke-opacity="0.59"/><circle r="14.8" fill="none" stroke="#333" stroke-width="0.9" stroke-opacity="0.37"/><circle r="6.7" fill="none" stroke="#fff" stroke-width="1.6" stroke-opacity="0.60"/><circle r="8.9" fill="none" stroke="#a8162c" stroke-width="2.6" stroke-opacity="0.41"/><circle r="9.6" fill="none" stroke="#a8162c" stroke-width="1.2" stroke-opacity="0.68"/><circle r="10.0" fill="none" stroke="#333" stroke-width="0.9" stroke-opacity="0.42"/><circle r="4.2" fill="none" stroke="#a8162c" stroke-width="2.7" stroke-opacity="0.95"/><path d="M7,0H21.2" stroke="#400" stroke-width="0.6" stroke-opacity="0.22" stroke-dasharray="3 2"/><circle r="1.8" fill="#fff" fill-opacity="0.6"/></g>
<g transform="translate(1076.6,169.3)"><circle r="6.7" fill="none" stroke="#fff" stroke-width="1.3" stroke-opacity="0.35"/><circle r="9.4" fill="none" stroke="#3c8a50" stroke-width="1.6" stroke-opacity="0.22"/><circle r="11.5" fill="none" stroke="#fff" stroke-width="1.3" stroke-opacity="0.35"/><circle r="14.2" fill="none" stroke="#3c8a50" stroke-width="1.6" stroke-opacity="0.22"/><circle r="16.4" fill="none" stroke="#fff" stroke-width="1.3" stroke-opacity="0.35"/><circle r="19.1" fill="none" stroke="#3c8a50" stroke-width="1.6" stroke-opacity="0.22"/><circle r="21.2" fill="none" stroke="#fff" stroke-width="1.3" stroke-opacity="0.35"/><circle r="23.9" fill="none" stroke="#3c8a50" stroke-width="1.6" stroke-opacity="0.22"/><circle r="4.2" fill="none" stroke="#5a5410" stroke-width="2.7" stroke-opacity="0.85"/><circle r="1.8" fill="#fff" fill-opacity="0.85"/></g>
<text class="lbl" x="1100.8" y="166.8" textLength="144.0" lengthAdjust="spacingAndGlyphs" xml:space="preserve">M5.5  1Aug 22:27</text>
<g transform="translate(1118.2,272.2)"><circle r="25.2" fill="url(#g_orange)"/><circle r="21.2" fill="none" stroke="#fff" stroke-width="1.6" stroke-opacity="0.25"/><circle r="23.4" fill="none" stroke="#a43a22" stroke-width="2.6" stroke-opacity="0.17"/><circle r="24.1" fill="none" stroke="#a43a22" stroke-width="1.2" stroke-opacity="0.28"/><circle r="24.5" fill="none" stroke="#333" stroke-width="0.9" stroke-opacity="0.17"/><circle r="16.4" fill="none" stroke="#fff" stroke-width="1.6" stroke-opacity="0.37"/><circle r="18.6" fill="none" stroke="#a43a22" stroke-width="2.6" stroke-opacity="0.30"/><circle r="19.2" fill="none" stroke="#a43a22" stroke-width="1.2" stroke-opacity="0.49"/><circle r="19.6" fill="none" stroke="#333" stroke-width="0.9" stroke-opacity="0.31"/><circle r="11.5" fill="none" stroke="#fff" stroke-width="1.6" stroke-opacity="0.48"/><circle r="13.7" fill="none" stroke="#a43a22" stroke-width="2.6" stroke-opacity="0.35"/><circle r="14.4" fill="none" stroke="#a43a22" stroke-width="1.2" stroke-opacity="0.59"/><circle r="14.8" fill="none" stroke="#333" stroke-width="0.9" stroke-opacity="0.37"/><circle r="6.7" fill="none" stroke="#fff" stroke-width="1.6" stroke-opacity="0.60"/><circle r="8.9" fill="none" stroke="#a43a22" stroke-width="2.6" stroke-opacity="0.41"/><circle r="9.6" fill="none" stroke="#a43a22" stroke-width="1.2" stroke-opacity="0.68"/><circle r="10.0" fill="none" stroke="#333" stroke-width="0.9" stroke-opacity="0.42"/><circle r="4.2" fill="none" stroke="#a43a22" stroke-width="2.7" stroke-opacity="0.95"/><path d="M7,0H21.2" stroke="#400" stroke-width="0.6" stroke-opacity="0.22" stroke-dasharray="3 2"/><circle r="1.8" fill="#fff" fill-opacity="0.6"/></g>
<text class="lbl" x="999.7" y="291.6" textLength="150.1" lengthAdjust="spacingAndGlyphs" xml:space="preserve">M5.9 10Aug 04:56</text>
<g transform="translate(946.9,316.2)"><circle r="25.2" fill="url(#g_brown)"/><circle r="21.2" fill="none" stroke="#fff" stroke-width="1.6" stroke-opacity="0.25"/><circle r="23.4" fill="none" stroke="#a84428" stroke-width="2.6" stroke-opacity="0.17"/><circle r="24.1" fill="none" stroke="#a84428" stroke-width="1.2" stroke-opacity="0.28"/><circle r="24.5" fill="none" stroke="#333" stroke-width="0.9" stroke-opacity="0.17"/><circle r="16.4" fill="none" stroke="#fff" stroke-width="1.6" stroke-opacity="0.37"/><circle r="18.6" fill="none" stroke="#a84428" stroke-width="2.6" stroke-opacity="0.30"/><circle r="19.2" fill="none" stroke="#a84428" stroke-width="1.2" stroke-opacity="0.49"/><circle r="19.6" fill="none" stroke="#333" stroke-width="0.9" stroke-opacity="0.31"/><circle r="11.5" fill="none" stroke="#fff" stroke-width="1.6" stroke-opacity="0.48"/><circle r="13.7" fill="none" stroke="#a84428" stroke-width="2.6" stroke-opacity="0.35"/><circle r="14.4" fill="none" stroke="#a84428" stroke-width="1.2" stroke-opacity="0.59"/><circle r="14.8" fill="none" stroke="#333" stroke-width="0.9" stroke-opacity="0.37"/><circle r="6.7" fill="none" stroke="#fff" stroke-width="1.6" stroke-opacity="0.60"/><circle r="8.9" fill="none" stroke="#a84428" stroke-width="2.6" stroke-opacity="0.41"/><circle r="9.6" fill="none" stroke="#a84428" stroke-width="1.2" stroke-opacity="0.68"/><circle r="10.0" fill="none" stroke="#333" stroke-width="0.9" stroke-opacity="0.42"/><circle r="4.2" fill="none" stroke="#a84428" stroke-width="2.7" stroke-opacity="0.95"/><path d="M7,0H21.2" stroke="#400" stroke-width="0.6" stroke-opacity="0.22" stroke-dasharray="3 2"/><circle r="1.8" fill="#fff" fill-opacity="0.6"/></g>
<text class="lbl" x="789.8" y="327.2" textLength="149.2" lengthAdjust="spacingAndGlyphs" xml:space="preserve">M5.6 23Aug 12:24</text>
<g transform="translate(1034.4,330.3)"><circle r="25.2" fill="url(#g_red)"/><circle r="21.2" fill="none" stroke="#fff" stroke-width="1.6" stroke-opacity="0.25"/><circle r="23.4" fill="none" stroke="#a8162c" stroke-width="2.6" stroke-opacity="0.17"/><circle r="24.1" fill="none" stroke="#a8162c" stroke-width="1.2" stroke-opacity="0.28"/><circle r="24.5" fill="none" stroke="#333" stroke-width="0.9" stroke-opacity="0.17"/><circle r="16.4" fill="none" stroke="#fff" stroke-width="1.6" stroke-opacity="0.37"/><circle r="18.6" fill="none" stroke="#a8162c" stroke-width="2.6" stroke-opacity="0.30"/><circle r="19.2" fill="none" stroke="#a8162c" stroke-width="1.2" stroke-opacity="0.49"/><circle r="19.6" fill="none" stroke="#333" stroke-width="0.9" stroke-opacity="0.31"/><circle r="11.5" fill="none" stroke="#fff" stroke-width="1.6" stroke-opacity="0.48"/><circle r="13.7" fill="none" stroke="#a8162c" stroke-width="2.6" stroke-opacity="0.35"/><circle r="14.4" fill="none" stroke="#a8162c" stroke-width="1.2" stroke-opacity="0.59"/><circle r="14.8" fill="none" stroke="#333" stroke-width="0.9" stroke-opacity="0.37"/><circle r="6.7" fill="none" stroke="#fff" stroke-width="1.6" stroke-opacity="0.60"/><circle r="8.9" fill="none" stroke="#a8162c" stroke-width="2.6" stroke-opacity="0.41"/><circle r="9.6" fill="none" stroke="#a8162c" stroke-width="1.2" stroke-opacity="0.68"/><circle r="10.0" fill="none" stroke="#333" stroke-width="0.9" stroke-opacity="0.42"/><circle r="4.2" fill="none" stroke="#a8162c" stroke-width="2.7" stroke-opacity="0.95"/><path d="M7,0H21.2" stroke="#400" stroke-width="0.6" stroke-opacity="0.22" stroke-dasharray="3 2"/><circle r="1.8" fill="#fff" fill-opacity="0.6"/></g>
<text class="lbl" x="876.0" y="349.4" textLength="150.3" lengthAdjust="spacingAndGlyphs" xml:space="preserve">M5.8 16Aug 22:38</text>
<g transform="translate(1098.4,333.0)"><circle r="30.1" fill="url(#g_olive)"/><circle r="26.1" fill="none" stroke="#fff" stroke-width="1.6" stroke-opacity="0.25"/><circle r="28.2" fill="none" stroke="#7d7d18" stroke-width="2.6" stroke-opacity="0.17"/><circle r="28.9" fill="none" stroke="#7d7d18" stroke-width="1.2" stroke-opacity="0.28"/><circle r="29.3" fill="none" stroke="#333" stroke-width="0.9" stroke-opacity="0.17"/><circle r="21.2" fill="none" stroke="#fff" stroke-width="1.6" stroke-opacity="0.34"/><circle r="23.4" fill="none" stroke="#7d7d18" stroke-width="2.6" stroke-opacity="0.28"/><circle r="24.1" fill="none" stroke="#7d7d18" stroke-width="1.2" stroke-opacity="0.47"/><circle r="24.5" fill="none" stroke="#333" stroke-width="0.9" stroke-opacity="0.29"/><circle r="16.4" fill="none" stroke="#fff" stroke-width="1.6" stroke-opacity="0.42"/><circle r="18.6" fill="none" stroke="#7d7d18" stroke-width="2.6" stroke-opacity="0.32"/><circle r="19.2" fill="none" stroke="#7d7d18" stroke-width="1.2" stroke-opacity="0.54"/><circle r="19.6" fill="none" stroke="#333" stroke-width="0.9" stroke-opacity="0.34"/><circle r="11.5" fill="none" stroke="#fff" stroke-width="1.6" stroke-opacity="0.51"/><circle r="13.7" fill="none" stroke="#7d7d18" stroke-width="2.6" stroke-opacity="0.37"/><circle r="14.4" fill="none" stroke="#7d7d18" stroke-width="1.2" stroke-opacity="0.61"/><circle r="14.8" fill="none" stroke="#333" stroke-width="0.9" stroke-opacity="0.38"/><circle r="6.7" fill="none" stroke="#fff" stroke-width="1.6" stroke-opacity="0.60"/><circle r="8.9" fill="none" stroke="#7d7d18" stroke-width="2.6" stroke-opacity="0.41"/><circle r="9.6" fill="none" stroke="#7d7d18" stroke-width="1.2" stroke-opacity="0.68"/><circle r="10.0" fill="none" stroke="#333" stroke-width="0.9" stroke-opacity="0.42"/><circle r="4.2" fill="none" stroke="#7d7d18" stroke-width="2.7" stroke-opacity="0.95"/><path d="M7,0H26.1" stroke="#400" stroke-width="0.6" stroke-opacity="0.22" stroke-dasharray="3 2"/><circle r="1.8" fill="#fff" fill-opacity="0.6"/></g>
<g transform="translate(1148.3,342.0)"><circle r="25.2" fill="url(#g_orange)"/><circle r="21.2" fill="none" stroke="#fff" stroke-width="1.6" stroke-opacity="0.25"/><circle r="23.4" fill="none" stroke="#a43a22" stroke-width="2.6" stroke-opacity="0.17"/><circle r="24.1" fill="none" stroke="#a43a22" stroke-width="1.2" stroke-opacity="0.28"/><circle r="24.5" fill="none" stroke="#333" stroke-width="0.9" stroke-opacity="0.17"/><circle r="16.4" fill="none" stroke="#fff" stroke-width="1.6" stroke-opacity="0.37"/><circle r="18.6" fill="none" stroke="#a43a22" stroke-width="2.6" stroke-opacity="0.30"/><circle r="19.2" fill="none" stroke="#a43a22" stroke-width="1.2" stroke-opacity="0.49"/><circle r="19.6" fill="none" stroke="#333" stroke-width="0.9" stroke-opacity="0.31"/><circle r="11.5" fill="none" stroke="#fff" stroke-width="1.6" stroke-opacity="0.48"/><circle r="13.7" fill="none" stroke="#a43a22" stroke-width="2.6" stroke-opacity="0.35"/><circle r="14.4" fill="none" stroke="#a43a22" stroke-width="1.2" stroke-opacity="0.59"/><circle r="14.8" fill="none" stroke="#333" stroke-width="0.9" stroke-opacity="0.37"/><circle r="6.7" fill="none" stroke="#fff" stroke-width="1.6" stroke-opacity="0.60"/><circle r="8.9" fill="none" stroke="#a43a22" stroke-width="2.6" stroke-opacity="0.41"/><circle r="9.6" fill="none" stroke="#a43a22" stroke-width="1.2" stroke-opacity="0.68"/><circle r="10.0" fill="none" stroke="#333" stroke-width="0.9" stroke-opacity="0.42"/><circle r="4.2" fill="none" stroke="#a43a22" stroke-width="2.7" stroke-opacity="0.95"/><path d="M7,0H21.2" stroke="#400" stroke-width="0.6" stroke-opacity="0.22" stroke-dasharray="3 2"/><circle r="1.8" fill="#fff" fill-opacity="0.6"/></g>
<text class="lbl" x="1123.4" y="356.1" textLength="150.1" lengthAdjust="spacingAndGlyphs" xml:space="preserve">M6.4 12Aug 08:24</text>
<g transform="translate(1148.3,342.0)"><circle r="6.7" fill="none" stroke="#fff" stroke-width="1.3" stroke-opacity="0.35"/><circle r="9.4" fill="none" stroke="#a43a22" stroke-width="1.6" stroke-opacity="0.22"/><circle r="11.5" fill="none" stroke="#fff" stroke-width="1.3" stroke-opacity="0.35"/><circle r="14.2" fill="none" stroke="#a43a22" stroke-width="1.6" stroke-opacity="0.22"/><circle r="16.4" fill="none" stroke="#fff" stroke-width="1.3" stroke-opacity="0.35"/><circle r="19.1" fill="none" stroke="#a43a22" stroke-width="1.6" stroke-opacity="0.22"/><circle r="21.2" fill="none" stroke="#fff" stroke-width="1.3" stroke-opacity="0.35"/><circle r="23.9" fill="none" stroke="#a43a22" stroke-width="1.6" stroke-opacity="0.22"/><circle r="4.2" fill="none" stroke="#a43a22" stroke-width="2.7" stroke-opacity="0.85"/><circle r="1.8" fill="#fff" fill-opacity="0.85"/></g>
<g transform="translate(1198.6,418.2)"><circle r="25.2" fill="url(#g_red)"/><circle r="21.2" fill="none" stroke="#fff" stroke-width="1.6" stroke-opacity="0.25"/><circle r="23.4" fill="none" stroke="#a8162c" stroke-width="2.6" stroke-opacity="0.17"/><circle r="24.1" fill="none" stroke="#a8162c" stroke-width="1.2" stroke-opacity="0.28"/><circle r="24.5" fill="none" stroke="#333" stroke-width="0.9" stroke-opacity="0.17"/><circle r="16.4" fill="none" stroke="#fff" stroke-width="1.6" stroke-opacity="0.37"/><circle r="18.6" fill="none" stroke="#a8162c" stroke-width="2.6" stroke-opacity="0.30"/><circle r="19.2" fill="none" stroke="#a8162c" stroke-width="1.2" stroke-opacity="0.49"/><circle r="19.6" fill="none" stroke="#333" stroke-width="0.9" stroke-opacity="0.31"/><circle r="11.5" fill="none" stroke="#fff" stroke-width="1.6" stroke-opacity="0.48"/><circle r="13.7" fill="none" stroke="#a8162c" stroke-width="2.6" stroke-opacity="0.35"/><circle r="14.4" fill="none" stroke="#a8162c" stroke-width="1.2" stroke-opacity="0.59"/><circle r="14.8" fill="none" stroke="#333" stroke-width="0.9" stroke-opacity="0.37"/><circle r="6.7" fill="none" stroke="#fff" stroke-width="1.6" stroke-opacity="0.60"/><circle r="8.9" fill="none" stroke="#a8162c" stroke-width="2.6" stroke-opacity="0.41"/><circle r="9.6" fill="none" stroke="#a8162c" stroke-width="1.2" stroke-opacity="0.68"/><circle r="10.0" fill="none" stroke="#333" stroke-width="0.9" stroke-opacity="0.42"/><circle r="4.2" fill="none" stroke="#a8162c" stroke-width="2.7" stroke-opacity="0.95"/><path d="M7,0H21.2" stroke="#400" stroke-width="0.6" stroke-opacity="0.22" stroke-dasharray="3 2"/><circle r="1.8" fill="#fff" fill-opacity="0.6"/></g>
<g transform="translate(1242.9,423.3)"><circle r="25.2" fill="url(#g_olive)"/><circle r="21.2" fill="none" stroke="#fff" stroke-width="1.6" stroke-opacity="0.25"/><circle r="23.4" fill="none" stroke="#7d7d18" stroke-width="2.6" stroke-opacity="0.17"/><circle r="24.1" fill="none" stroke="#7d7d18" stroke-width="1.2" stroke-opacity="0.28"/><circle r="24.5" fill="none" stroke="#333" stroke-width="0.9" stroke-opacity="0.17"/><circle r="16.4" fill="none" stroke="#fff" stroke-width="1.6" stroke-opacity="0.37"/><circle r="18.6" fill="none" stroke="#7d7d18" stroke-width="2.6" stroke-opacity="0.30"/><circle r="19.2" fill="none" stroke="#7d7d18" stroke-width="1.2" stroke-opacity="0.49"/><circle r="19.6" fill="none" stroke="#333" stroke-width="0.9" stroke-opacity="0.31"/><circle r="11.5" fill="none" stroke="#fff" stroke-width="1.6" stroke-opacity="0.48"/><circle r="13.7" fill="none" stroke="#7d7d18" stroke-width="2.6" stroke-opacity="0.35"/><circle r="14.4" fill="none" stroke="#7d7d18" stroke-width="1.2" stroke-opacity="0.59"/><circle r="14.8" fill="none" stroke="#333" stroke-width="0.9" stroke-opacity="0.37"/><circle r="6.7" fill="none" stroke="#fff" stroke-width="1.6" stroke-opacity="0.60"/><circle r="8.9" fill="none" stroke="#7d7d18" stroke-width="2.6" stroke-opacity="0.41"/><circle r="9.6" fill="none" stroke="#7d7d18" stroke-width="1.2" stroke-opacity="0.68"/><circle r="10.0" fill="none" stroke="#333" stroke-width="0.9" stroke-opacity="0.42"/><circle r="4.2" fill="none" stroke="#7d7d18" stroke-width="2.7" stroke-opacity="0.95"/><path d="M7,0H21.2" stroke="#400" stroke-width="0.6" stroke-opacity="0.22" stroke-dasharray="3 2"/><circle r="1.8" fill="#fff" fill-opacity="0.6"/></g>
<g transform="translate(1261.4,386.3)"><circle r="25.2" fill="url(#g_red)"/><circle r="21.2" fill="none" stroke="#fff" stroke-width="1.6" stroke-opacity="0.25"/><circle r="23.4" fill="none" stroke="#a8162c" stroke-width="2.6" stroke-opacity="0.17"/><circle r="24.1" fill="none" stroke="#a8162c" stroke-width="1.2" stroke-opacity="0.28"/><circle r="24.5" fill="none" stroke="#333" stroke-width="0.9" stroke-opacity="0.17"/><circle r="16.4" fill="none" stroke="#fff" stroke-width="1.6" stroke-opacity="0.37"/><circle r="18.6" fill="none" stroke="#a8162c" stroke-width="2.6" stroke-opacity="0.30"/><circle r="19.2" fill="none" stroke="#a8162c" stroke-width="1.2" stroke-opacity="0.49"/><circle r="19.6" fill="none" stroke="#333" stroke-width="0.9" stroke-opacity="0.31"/><circle r="11.5" fill="none" stroke="#fff" stroke-width="1.6" stroke-opacity="0.48"/><circle r="13.7" fill="none" stroke="#a8162c" stroke-width="2.6" stroke-opacity="0.35"/><circle r="14.4" fill="none" stroke="#a8162c" stroke-width="1.2" stroke-opacity="0.59"/><circle r="14.8" fill="none" stroke="#333" stroke-width="0.9" stroke-opacity="0.37"/><circle r="6.7" fill="none" stroke="#fff" stroke-width="1.6" stroke-opacity="0.60"/><circle r="8.9" fill="none" stroke="#a8162c" stroke-width="2.6" stroke-opacity="0.41"/><circle r="9.6" fill="none" stroke="#a8162c" stroke-width="1.2" stroke-opacity="0.68"/><circle r="10.0" fill="none" stroke="#333" stroke-width="0.9" stroke-opacity="0.42"/><circle r="4.2" fill="none" stroke="#a8162c" stroke-width="2.7" stroke-opacity="0.95"/><path d="M7,0H21.2" stroke="#400" stroke-width="0.6" stroke-opacity="0.22" stroke-dasharray="3 2"/><circle r="1.8" fill="#fff" fill-opacity="0.6"/></g>
<g transform="translate(1261.4,397.4)"><circle r="25.2" fill="url(#g_orange)"/><circle r="21.2" fill="none" stroke="#fff" stroke-width="1.6" stroke-opacity="0.25"/><circle r="23.4" fill="none" stroke="#a43a22" stroke-width="2.6" stroke-opacity="0.17"/><circle r="24.1" fill="none" stroke="#a43a22" stroke-width="1.2" stroke-opacity="0.28"/><circle r="24.5" fill="none" stroke="#333" stroke-width="0.9" stroke-opacity="0.17"/><circle r="16.4" fill="none" stroke="#fff" stroke-width="1.6" stroke-opacity="0.37"/><circle r="18.6" fill="none" stroke="#a43a22" stroke-width="2.6" stroke-opacity="0.30"/><circle r="19.2" fill="none" stroke="#a43a22" stroke-width="1.2" stroke-opacity="0.49"/><circle r="19.6" fill="none" stroke="#333" stroke-width="0.9" stroke-opacity="0.31"/><circle r="11.5" fill="none" stroke="#fff" stroke-width="1.6" stroke-opacity="0.48"/><circle r="13.7" fill="none" stroke="#a43a22" stroke-width="2.6" stroke-opacity="0.35"/><circle r="14.4" fill="none" stroke="#a43a22" stroke-width="1.2" stroke-opacity="0.59"/><circle r="14.8" fill="none" stroke="#333" stroke-width="0.9" stroke-opacity="0.37"/><circle r="6.7" fill="none" stroke="#fff" stroke-width="1.6" stroke-opacity="0.60"/><circle r="8.9" fill="none" stroke="#a43a22" stroke-width="2.6" stroke-opacity="0.41"/><circle r="9.6" fill="none" stroke="#a43a22" stroke-width="1.2" stroke-opacity="0.68"/><circle r="10.0" fill="none" stroke="#333" stroke-width="0.9" stroke-opacity="0.42"/><circle r="4.2" fill="none" stroke="#a43a22" stroke-width="2.7" stroke-opacity="0.95"/><path d="M7,0H21.2" stroke="#400" stroke-width="0.6" stroke-opacity="0.22" stroke-dasharray="3 2"/><circle r="1.8" fill="#fff" fill-opacity="0.6"/></g>
<g transform="translate(1261.4,386.3)"><circle r="6.7" fill="none" stroke="#fff" stroke-width="1.3" stroke-opacity="0.35"/><circle r="9.4" fill="none" stroke="#a8162c" stroke-width="1.6" stroke-opacity="0.22"/><circle r="11.5" fill="none" stroke="#fff" stroke-width="1.3" stroke-opacity="0.35"/><circle r="14.2" fill="none" stroke="#a8162c" stroke-width="1.6" stroke-opacity="0.22"/><circle r="16.4" fill="none" stroke="#fff" stroke-width="1.3" stroke-opacity="0.35"/><circle r="19.1" fill="none" stroke="#a8162c" stroke-width="1.6" stroke-opacity="0.22"/><circle r="21.2" fill="none" stroke="#fff" stroke-width="1.3" stroke-opacity="0.35"/><circle r="23.9" fill="none" stroke="#a8162c" stroke-width="1.6" stroke-opacity="0.22"/><circle r="4.2" fill="none" stroke="#a8162c" stroke-width="2.7" stroke-opacity="0.85"/><circle r="1.8" fill="#fff" fill-opacity="0.85"/></g>
<g transform="translate(1130.0,430.0)"><circle r="25.2" fill="url(#g_red)"/><circle r="21.2" fill="none" stroke="#fff" stroke-width="1.6" stroke-opacity="0.25"/><circle r="23.4" fill="none" stroke="#a8162c" stroke-width="2.6" stroke-opacity="0.17"/><circle r="24.1" fill="none" stroke="#a8162c" stroke-width="1.2" stroke-opacity="0.28"/><circle r="24.5" fill="none" stroke="#333" stroke-width="0.9" stroke-opacity="0.17"/><circle r="16.4" fill="none" stroke="#fff" stroke-width="1.6" stroke-opacity="0.37"/><circle r="18.6" fill="none" stroke="#a8162c" stroke-width="2.6" stroke-opacity="0.30"/><circle r="19.2" fill="none" stroke="#a8162c" stroke-width="1.2" stroke-opacity="0.49"/><circle r="19.6" fill="none" stroke="#333" stroke-width="0.9" stroke-opacity="0.31"/><circle r="11.5" fill="none" stroke="#fff" stroke-width="1.6" stroke-opacity="0.48"/><circle r="13.7" fill="none" stroke="#a8162c" stroke-width="2.6" stroke-opacity="0.35"/><circle r="14.4" fill="none" stroke="#a8162c" stroke-width="1.2" stroke-opacity="0.59"/><circle r="14.8" fill="none" stroke="#333" stroke-width="0.9" stroke-opacity="0.37"/><circle r="6.7" fill="none" stroke="#fff" stroke-width="1.6" stroke-opacity="0.60"/><circle r="8.9" fill="none" stroke="#a8162c" stroke-width="2.6" stroke-opacity="0.41"/><circle r="9.6" fill="none" stroke="#a8162c" stroke-width="1.2" stroke-opacity="0.68"/><circle r="10.0" fill="none" stroke="#333" stroke-width="0.9" stroke-opacity="0.42"/><circle r="4.2" fill="none" stroke="#a8162c" stroke-width="2.7" stroke-opacity="0.95"/><path d="M7,0H21.2" stroke="#400" stroke-width="0.6" stroke-opacity="0.22" stroke-dasharray="3 2"/><circle r="1.8" fill="#fff" fill-opacity="0.6"/></g>
<text class="lbl" x="1124.6" y="442.4" textLength="150.0" lengthAdjust="spacingAndGlyphs" xml:space="preserve">M5.6 18Aug 23:03</text>
<g transform="translate(1130.0,430.0)"><circle r="6.7" fill="none" stroke="#fff" stroke-width="1.3" stroke-opacity="0.35"/><circle r="9.4" fill="none" stroke="#a8162c" stroke-width="1.6" stroke-opacity="0.22"/><circle r="11.5" fill="none" stroke="#fff" stroke-width="1.3" stroke-opacity="0.35"/><circle r="14.2" fill="none" stroke="#a8162c" stroke-width="1.6" stroke-opacity="0.22"/><circle r="16.4" fill="none" stroke="#fff" stroke-width="1.3" stroke-opacity="0.35"/><circle r="19.1" fill="none" stroke="#a8162c" stroke-width="1.6" stroke-opacity="0.22"/><circle r="21.2" fill="none" stroke="#fff" stroke-width="1.3" stroke-opacity="0.35"/><circle r="23.9" fill="none" stroke="#a8162c" stroke-width="1.6" stroke-opacity="0.22"/><circle r="4.2" fill="none" stroke="#a8162c" stroke-width="2.7" stroke-opacity="0.85"/><circle r="1.8" fill="#fff" fill-opacity="0.85"/></g>
<g transform="translate(353.4,503.4)"><circle r="25.2" fill="url(#g_red)"/><circle r="21.2" fill="none" stroke="#fff" stroke-width="1.6" stroke-opacity="0.25"/><circle r="23.4" fill="none" stroke="#a8162c" stroke-width="2.6" stroke-opacity="0.17"/><circle r="24.1" fill="none" stroke="#a8162c" stroke-width="1.2" stroke-opacity="0.28"/><circle r="24.5" fill="none" stroke="#333" stroke-width="0.9" stroke-opacity="0.17"/><circle r="16.4" fill="none" stroke="#fff" stroke-width="1.6" stroke-opacity="0.37"/><circle r="18.6" fill="none" stroke="#a8162c" stroke-width="2.6" stroke-opacity="0.30"/><circle r="19.2" fill="none" stroke="#a8162c" stroke-width="1.2" stroke-opacity="0.49"/><circle r="19.6" fill="none" stroke="#333" stroke-width="0.9" stroke-opacity="0.31"/><circle r="11.5" fill="none" stroke="#fff" stroke-width="1.6" stroke-opacity="0.48"/><circle r="13.7" fill="none" stroke="#a8162c" stroke-width="2.6" stroke-opacity="0.35"/><circle r="14.4" fill="none" stroke="#a8162c" stroke-width="1.2" stroke-opacity="0.59"/><circle r="14.8" fill="none" stroke="#333" stroke-width="0.9" stroke-opacity="0.37"/><circle r="6.7" fill="none" stroke="#fff" stroke-width="1.6" stroke-opacity="0.60"/><circle r="8.9" fill="none" stroke="#a8162c" stroke-width="2.6" stroke-opacity="0.41"/><circle r="9.6" fill="none" stroke="#a8162c" stroke-width="1.2" stroke-opacity="0.68"/><circle r="10.0" fill="none" stroke="#333" stroke-width="0.9" stroke-opacity="0.42"/><circle r="4.2" fill="none" stroke="#a8162c" stroke-width="2.7" stroke-opacity="0.95"/><path d="M7,0H21.2" stroke="#400" stroke-width="0.6" stroke-opacity="0.22" stroke-dasharray="3 2"/><circle r="1.8" fill="#fff" fill-opacity="0.6"/></g>
<text class="lbl" x="375.1" y="522.2" textLength="150.2" lengthAdjust="spacingAndGlyphs" xml:space="preserve">M5.7 18Aug 07:10</text>
<g transform="translate(230.4,545.3)"><circle r="30.1" fill="url(#g_red)"/><circle r="26.1" fill="none" stroke="#fff" stroke-width="1.6" stroke-opacity="0.25"/><circle r="28.2" fill="none" stroke="#a8162c" stroke-width="2.6" stroke-opacity="0.17"/><circle r="28.9" fill="none" stroke="#a8162c" stroke-width="1.2" stroke-opacity="0.28"/><circle r="29.3" fill="none" stroke="#333" stroke-width="0.9" stroke-opacity="0.17"/><circle r="21.2" fill="none" stroke="#fff" stroke-width="1.6" stroke-opacity="0.34"/><circle r="23.4" fill="none" stroke="#a8162c" stroke-width="2.6" stroke-opacity="0.28"/><circle r="24.1" fill="none" stroke="#a8162c" stroke-width="1.2" stroke-opacity="0.47"/><circle r="24.5" fill="none" stroke="#333" stroke-width="0.9" stroke-opacity="0.29"/><circle r="16.4" fill="none" stroke="#fff" stroke-width="1.6" stroke-opacity="0.42"/><circle r="18.6" fill="none" stroke="#a8162c" stroke-width="2.6" stroke-opacity="0.32"/><circle r="19.2" fill="none" stroke="#a8162c" stroke-width="1.2" stroke-opacity="0.54"/><circle r="19.6" fill="none" stroke="#333" stroke-width="0.9" stroke-opacity="0.34"/><circle r="11.5" fill="none" stroke="#fff" stroke-width="1.6" stroke-opacity="0.51"/><circle r="13.7" fill="none" stroke="#a8162c" stroke-width="2.6" stroke-opacity="0.37"/><circle r="14.4" fill="none" stroke="#a8162c" stroke-width="1.2" stroke-opacity="0.61"/><circle r="14.8" fill="none" stroke="#333" stroke-width="0.9" stroke-opacity="0.38"/><circle r="6.7" fill="none" stroke="#fff" stroke-width="1.6" stroke-opacity="0.60"/><circle r="8.9" fill="none" stroke="#a8162c" stroke-width="2.6" stroke-opacity="0.41"/><circle r="9.6" fill="none" stroke="#a8162c" stroke-width="1.2" stroke-opacity="0.68"/><circle r="10.0" fill="none" stroke="#333" stroke-width="0.9" stroke-opacity="0.42"/><circle r="4.2" fill="none" stroke="#a8162c" stroke-width="2.7" stroke-opacity="0.95"/><path d="M7,0H26.1" stroke="#400" stroke-width="0.6" stroke-opacity="0.22" stroke-dasharray="3 2"/><circle r="1.8" fill="#fff" fill-opacity="0.6"/></g>
<g transform="translate(437.4,564.3)"><circle r="34.9" fill="url(#g_red)"/><circle r="30.9" fill="none" stroke="#fff" stroke-width="1.6" stroke-opacity="0.25"/><circle r="33.1" fill="none" stroke="#a8162c" stroke-width="2.6" stroke-opacity="0.17"/><circle r="33.8" fill="none" stroke="#a8162c" stroke-width="1.2" stroke-opacity="0.28"/><circle r="34.2" fill="none" stroke="#333" stroke-width="0.9" stroke-opacity="0.17"/><circle r="26.1" fill="none" stroke="#fff" stroke-width="1.6" stroke-opacity="0.32"/><circle r="28.2" fill="none" stroke="#a8162c" stroke-width="2.6" stroke-opacity="0.27"/><circle r="28.9" fill="none" stroke="#a8162c" stroke-width="1.2" stroke-opacity="0.46"/><circle r="29.3" fill="none" stroke="#333" stroke-width="0.9" stroke-opacity="0.29"/><circle r="21.2" fill="none" stroke="#fff" stroke-width="1.6" stroke-opacity="0.39"/><circle r="23.4" fill="none" stroke="#a8162c" stroke-width="2.6" stroke-opacity="0.31"/><circle r="24.1" fill="none" stroke="#a8162c" stroke-width="1.2" stroke-opacity="0.51"/><circle r="24.5" fill="none" stroke="#333" stroke-width="0.9" stroke-opacity="0.32"/><circle r="16.4" fill="none" stroke="#fff" stroke-width="1.6" stroke-opacity="0.46"/><circle r="18.6" fill="none" stroke="#a8162c" stroke-width="2.6" stroke-opacity="0.34"/><circle r="19.2" fill="none" stroke="#a8162c" stroke-width="1.2" stroke-opacity="0.57"/><circle r="19.6" fill="none" stroke="#333" stroke-width="0.9" stroke-opacity="0.35"/><circle r="11.5" fill="none" stroke="#fff" stroke-width="1.6" stroke-opacity="0.53"/><circle r="13.7" fill="none" stroke="#a8162c" stroke-width="2.6" stroke-opacity="0.37"/><circle r="14.4" fill="none" stroke="#a8162c" stroke-width="1.2" stroke-opacity="0.62"/><circle r="14.8" fill="none" stroke="#333" stroke-width="0.9" stroke-opacity="0.39"/><circle r="6.7" fill="none" stroke="#fff" stroke-width="1.6" stroke-opacity="0.60"/><circle r="8.9" fill="none" stroke="#a8162c" stroke-width="2.6" stroke-opacity="0.41"/><circle r="9.6" fill="none" stroke="#a8162c" stroke-width="1.2" stroke-opacity="0.68"/><circle r="10.0" fill="none" stroke="#333" stroke-width="0.9" stroke-opacity="0.42"/><circle r="4.2" fill="none" stroke="#a8162c" stroke-width="2.7" stroke-opacity="0.95"/><path d="M7,0H30.9" stroke="#400" stroke-width="0.6" stroke-opacity="0.22" stroke-dasharray="3 2"/><circle r="1.8" fill="#fff" fill-opacity="0.6"/></g>
<g transform="translate(415.2,552.3)"><circle r="25.2" fill="url(#g_red)"/><circle r="21.2" fill="none" stroke="#fff" stroke-width="1.6" stroke-opacity="0.25"/><circle r="23.4" fill="none" stroke="#a8162c" stroke-width="2.6" stroke-opacity="0.17"/><circle r="24.1" fill="none" stroke="#a8162c" stroke-width="1.2" stroke-opacity="0.28"/><circle r="24.5" fill="none" stroke="#333" stroke-width="0.9" stroke-opacity="0.17"/><circle r="16.4" fill="none" stroke="#fff" stroke-width="1.6" stroke-opacity="0.37"/><circle r="18.6" fill="none" stroke="#a8162c" stroke-width="2.6" stroke-opacity="0.30"/><circle r="19.2" fill="none" stroke="#a8162c" stroke-width="1.2" stroke-opacity="0.49"/><circle r="19.6" fill="none" stroke="#333" stroke-width="0.9" stroke-opacity="0.31"/><circle r="11.5" fill="none" stroke="#fff" stroke-width="1.6" stroke-opacity="0.48"/><circle r="13.7" fill="none" stroke="#a8162c" stroke-width="2.6" stroke-opacity="0.35"/><circle r="14.4" fill="none" stroke="#a8162c" stroke-width="1.2" stroke-opacity="0.59"/><circle r="14.8" fill="none" stroke="#333" stroke-width="0.9" stroke-opacity="0.37"/><circle r="6.7" fill="none" stroke="#fff" stroke-width="1.6" stroke-opacity="0.60"/><circle r="8.9" fill="none" stroke="#a8162c" stroke-width="2.6" stroke-opacity="0.41"/><circle r="9.6" fill="none" stroke="#a8162c" stroke-width="1.2" stroke-opacity="0.68"/><circle r="10.0" fill="none" stroke="#333" stroke-width="0.9" stroke-opacity="0.42"/><circle r="4.2" fill="none" stroke="#a8162c" stroke-width="2.7" stroke-opacity="0.95"/><path d="M7,0H21.2" stroke="#400" stroke-width="0.6" stroke-opacity="0.22" stroke-dasharray="3 2"/><circle r="1.8" fill="#fff" fill-opacity="0.6"/></g>
<g transform="translate(437.4,564.3)"><circle r="6.7" fill="none" stroke="#fff" stroke-width="1.3" stroke-opacity="0.35"/><circle r="9.4" fill="none" stroke="#a8162c" stroke-width="1.6" stroke-opacity="0.22"/><circle r="11.5" fill="none" stroke="#fff" stroke-width="1.3" stroke-opacity="0.35"/><circle r="14.2" fill="none" stroke="#a8162c" stroke-width="1.6" stroke-opacity="0.22"/><circle r="16.4" fill="none" stroke="#fff" stroke-width="1.3" stroke-opacity="0.35"/><circle r="19.1" fill="none" stroke="#a8162c" stroke-width="1.6" stroke-opacity="0.22"/><circle r="21.2" fill="none" stroke="#fff" stroke-width="1.3" stroke-opacity="0.35"/><circle r="23.9" fill="none" stroke="#a8162c" stroke-width="1.6" stroke-opacity="0.22"/><circle r="26.1" fill="none" stroke="#fff" stroke-width="1.3" stroke-opacity="0.35"/><circle r="28.8" fill="none" stroke="#a8162c" stroke-width="1.6" stroke-opacity="0.22"/><circle r="30.9" fill="none" stroke="#fff" stroke-width="1.3" stroke-opacity="0.35"/><circle r="33.6" fill="none" stroke="#a8162c" stroke-width="1.6" stroke-opacity="0.22"/><circle r="4.2" fill="none" stroke="#a8162c" stroke-width="2.7" stroke-opacity="0.85"/><circle r="1.8" fill="#fff" fill-opacity="0.85"/></g>
<text class="lbl" x="256.1" y="568.5" textLength="143.9" lengthAdjust="spacingAndGlyphs" xml:space="preserve">M6.4  3Aug 04:57</text>
<text class="lbl" x="466.4" y="591.7" textLength="150.4" lengthAdjust="spacingAndGlyphs" xml:space="preserve">M7.5 22Aug 02:16</text>
<g transform="translate(972.4,516.4)"><circle r="25.2" fill="url(#g_red)"/><circle r="21.2" fill="none" stroke="#fff" stroke-width="1.6" stroke-opacity="0.25"/><circle r="23.4" fill="none" stroke="#a8162c" stroke-width="2.6" stroke-opacity="0.17"/><circle r="24.1" fill="none" stroke="#a8162c" stroke-width="1.2" stroke-opacity="0.28"/><circle r="24.5" fill="none" stroke="#333" stroke-width="0.9" stroke-opacity="0.17"/><circle r="16.4" fill="none" stroke="#fff" stroke-width="1.6" stroke-opacity="0.37"/><circle r="18.6" fill="none" stroke="#a8162c" stroke-width="2.6" stroke-opacity="0.30"/><circle r="19.2" fill="none" stroke="#a8162c" stroke-width="1.2" stroke-opacity="0.49"/><circle r="19.6" fill="none" stroke="#333" stroke-width="0.9" stroke-opacity="0.31"/><circle r="11.5" fill="none" stroke="#fff" stroke-width="1.6" stroke-opacity="0.48"/><circle r="13.7" fill="none" stroke="#a8162c" stroke-width="2.6" stroke-opacity="0.35"/><circle r="14.4" fill="none" stroke="#a8162c" stroke-width="1.2" stroke-opacity="0.59"/><circle r="14.8" fill="none" stroke="#333" stroke-width="0.9" stroke-opacity="0.37"/><circle r="6.7" fill="none" stroke="#fff" stroke-width="1.6" stroke-opacity="0.60"/><circle r="8.9" fill="none" stroke="#a8162c" stroke-width="2.6" stroke-opacity="0.41"/><circle r="9.6" fill="none" stroke="#a8162c" stroke-width="1.2" stroke-opacity="0.68"/><circle r="10.0" fill="none" stroke="#333" stroke-width="0.9" stroke-opacity="0.42"/><circle r="4.2" fill="none" stroke="#a8162c" stroke-width="2.7" stroke-opacity="0.95"/><path d="M7,0H21.2" stroke="#400" stroke-width="0.6" stroke-opacity="0.22" stroke-dasharray="3 2"/><circle r="1.8" fill="#fff" fill-opacity="0.6"/></g>
<text class="lbl" x="993.3" y="535.2" textLength="145.6" lengthAdjust="spacingAndGlyphs" xml:space="preserve">M5.5  3Aug 15:48</text>
<text x="8.5" y="28.5" textLength="255.4" lengthAdjust="spacingAndGlyphs" style="font:bold 28.3px 'Liberation Sans','DejaVu Sans',sans-serif" fill="#000" stroke="#000" stroke-width="0.5">Earthquakes M5.5+</text><text x="9.4" y="57.8" textLength="336.4" lengthAdjust="spacingAndGlyphs" style="font:bold 20px 'Liberation Sans','DejaVu Sans',sans-serif" fill="#000" stroke="#000" stroke-width="0.35">updated: 31 Aug 2025 18:00 (UTC)</text><text x="1120" y="28.4" textLength="121.2" lengthAdjust="spacingAndGlyphs" style="font:bold 28.3px 'Liberation Sans','DejaVu Sans',sans-serif" fill="#000" stroke="#000" stroke-width="0.5">Aug 2025</text><text x="9.5" y="588" textLength="238" lengthAdjust="spacing" style="font:11.2px 'Liberation Sans','DejaVu Sans',sans-serif" fill="#000">Map base: Robinson projection of the world</text><text x="9.5" y="619.4" textLength="204" lengthAdjust="spacing" style="font:11.2px 'Liberation Sans','DejaVu Sans',sans-serif" fill="#808080">generated in 0.12ms 31 Aug 2025 18:00</text>
<g><path d="M881.3,635.4 L898.5,623.2 L911.2,623.2 L927.1,635.4 Z" fill="#2b2b2b"/><text x="896.4" y="620.3" textLength="110.6" lengthAdjust="spacingAndGlyphs" style="font:bold 20.6px 'Liberation Sans','DejaVu Sans',sans-serif" fill="#333" stroke="#333" stroke-width="0.9">VOLCANO</text><text x="931.6" y="635.6" textLength="97.2" lengthAdjust="spacingAndGlyphs" style="font:bold 17.3px 'Liberation Sans','DejaVu Sans',sans-serif" fill="#b0202e">DISCOVERY</text></g>
<g transform="translate(1175.3,620.5)"><circle r="9.7" fill="#fff"/><circle r="6.0" fill="none" stroke="#e8404a" stroke-width="1.4" stroke-opacity=".35"/><circle r="8.25" fill="none" stroke="#8b1a2a" stroke-width="2.9" stroke-opacity=".95"/><circle r="2.9" fill="none" stroke="#8b1a2a" stroke-width="2.6"/><circle r="1.5" fill="#fff"/></g><g transform="translate(1190.3,620.5)"><circle r="9.7" fill="#fff"/><circle r="6.0" fill="none" stroke="#ff6a3a" stroke-width="1.4" stroke-opacity=".35"/><circle r="8.25" fill="none" stroke="#8a2c1c" stroke-width="2.9" stroke-opacity=".95"/><circle r="2.9" fill="none" stroke="#8a2c1c" stroke-width="2.6"/><circle r="1.5" fill="#fff"/></g><g transform="translate(1205.3,620.5)"><circle r="9.7" fill="#fff"/><circle r="6.0" fill="none" stroke="#e8c040" stroke-width="1.4" stroke-opacity=".35"/><circle r="8.25" fill="none" stroke="#6a5a12" stroke-width="2.9" stroke-opacity=".95"/><circle r="2.9" fill="none" stroke="#6a5a12" stroke-width="2.6"/><circle r="1.5" fill="#fff"/></g><g transform="translate(1219.8,620.5)"><circle r="9.7" fill="#fff"/><circle r="6.0" fill="none" stroke="#60d060" stroke-width="1.4" stroke-opacity=".35"/><circle r="8.25" fill="none" stroke="#286a20" stroke-width="2.9" stroke-opacity=".95"/><circle r="2.9" fill="none" stroke="#286a20" stroke-width="2.6"/><circle r="1.5" fill="#fff"/></g><g transform="translate(1235.3,620.5)"><circle r="9.7" fill="#fff"/><circle r="6.0" fill="none" stroke="#5050ff" stroke-width="1.4" stroke-opacity=".35"/><circle r="8.25" fill="none" stroke="#15158a" stroke-width="2.9" stroke-opacity=".95"/><circle r="2.9" fill="none" stroke="#15158a" stroke-width="2.6"/><circle r="1.5" fill="#fff"/></g><g transform="translate(1250.8,620.5)"><circle r="9.7" fill="#fff"/><circle r="6.0" fill="none" stroke="#6a50e0" stroke-width="1.4" stroke-opacity=".35"/><circle r="8.25" fill="none" stroke="#2a1a6a" stroke-width="2.9" stroke-opacity=".95"/><circle r="2.9" fill="none" stroke="#2a1a6a" stroke-width="2.6"/><circle r="1.5" fill="#fff"/></g><text x="1159.8" y="642.5" textLength="43.2" lengthAdjust="spacing" style="font:11.5px 'Liberation Sans','DejaVu Sans',sans-serif" fill="#111">shallow</text><text x="1229.7" y="640.6" textLength="24.4" lengthAdjust="spacingAndGlyphs" style="font:11.5px 'Liberation Sans','DejaVu Sans',sans-serif" fill="#111">deep</text>
</svg>
</body></html>
